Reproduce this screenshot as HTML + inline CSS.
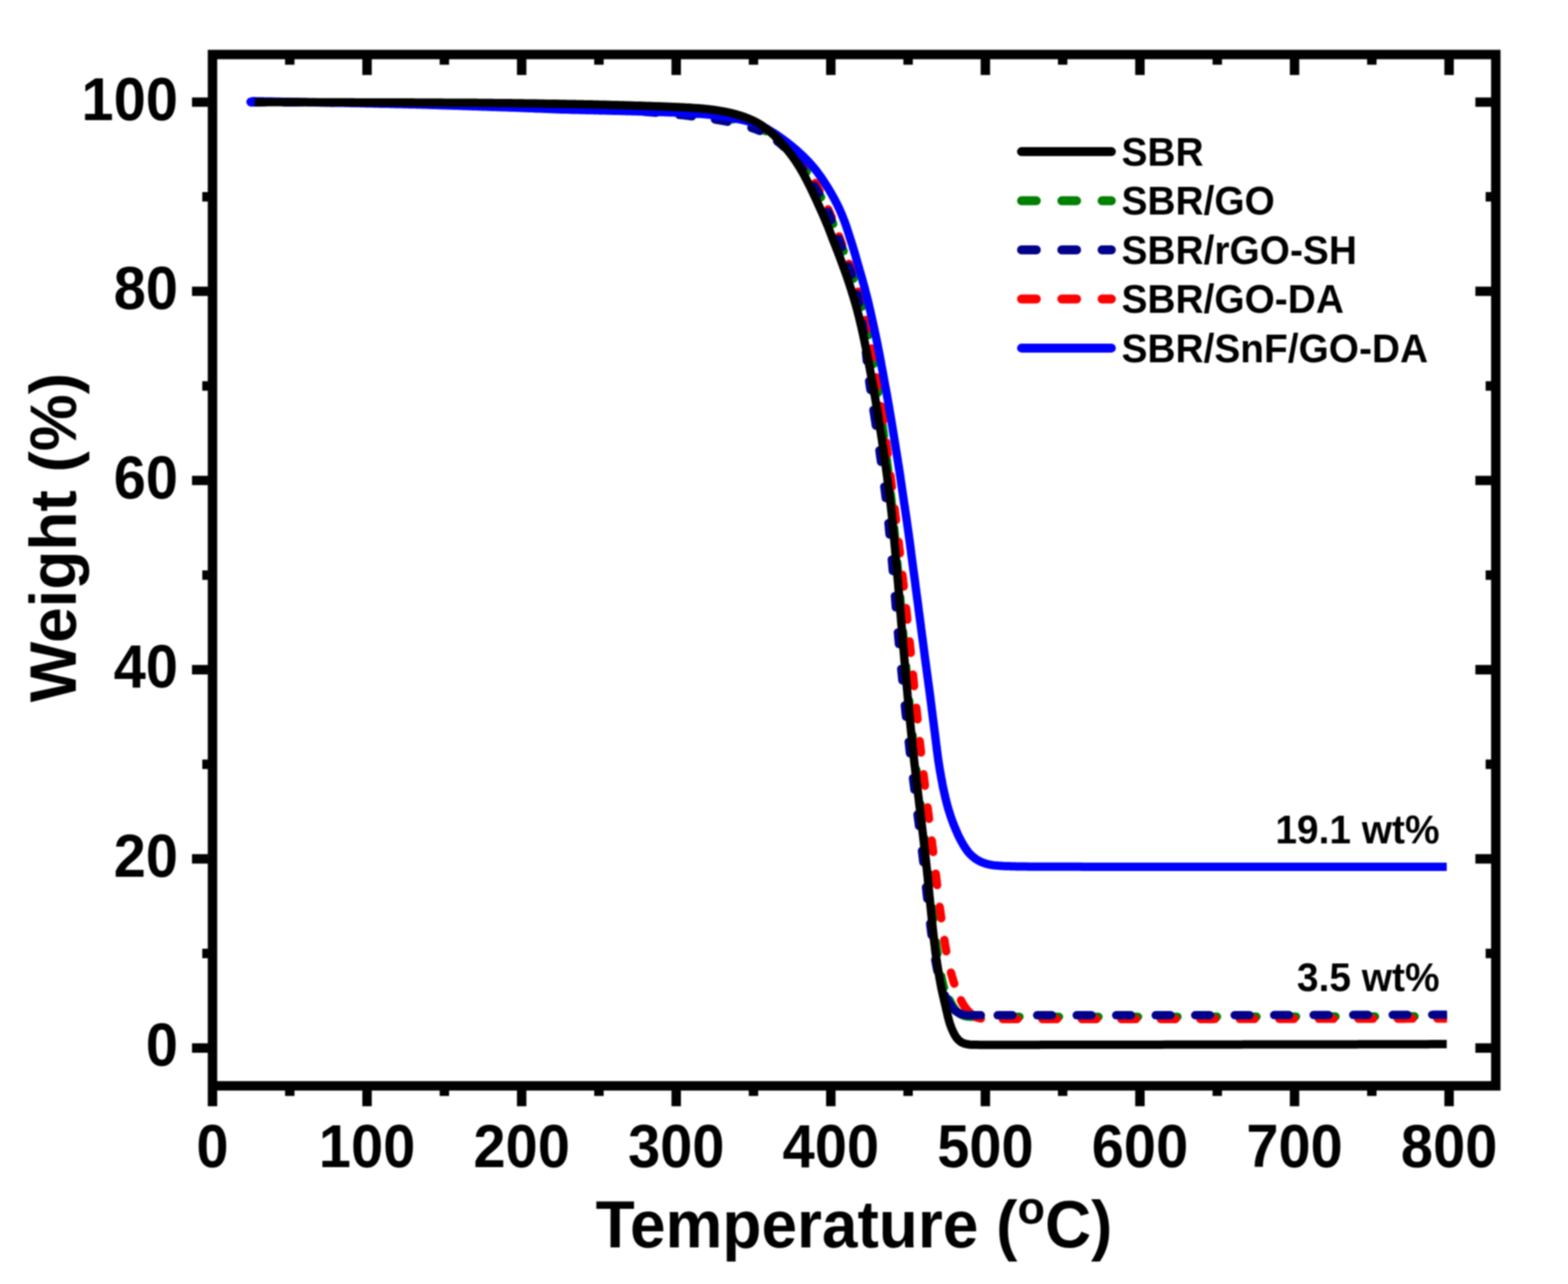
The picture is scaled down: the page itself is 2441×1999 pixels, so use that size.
<!DOCTYPE html>
<html lang="en">
<head>
<meta charset="utf-8">
<title>TGA curves</title>
<style>
html,body{margin:0;padding:0;background:#fff;}
body{width:2441px;height:1999px;overflow:hidden;}
svg{display:block;filter:blur(1.1px);}
text{font-family:'Liberation Sans', Arial, Helvetica, sans-serif;font-weight:bold;fill:#000;}
.tick{font-size:90px;}
.title{font-size:99.6px;}
.leg{font-size:60.5px;}
.ann{font-size:60.5px;}
.curve{fill:none;stroke-width:13.0;stroke-linejoin:round;}
</style>
</head>
<body>
<svg width="2441" height="1999" viewBox="0 0 2441 1999">
<rect x="0" y="0" width="2441" height="1999" fill="#ffffff"/>
<defs><clipPath id="cp"><rect x="370" y="100" width="1882.6" height="1570"/></clipPath></defs>
<g id="plot" clip-path="url(#cp)">

<path class="curve" stroke="#008000" stroke-dasharray="20 36" stroke-dashoffset="52.8" stroke-linecap="round" d="M391.0,159.2 L394.1,159.2 L397.1,159.2 L400.0,159.2 L403.0,159.2 L406.0,159.2 L409.0,159.2 L412.0,159.2 L415.0,159.2 L418.0,159.2 L421.0,159.2 L424.0,159.2 L427.0,159.2 L430.0,159.2 L433.0,159.2 L436.0,159.3 L439.0,159.3 L442.0,159.3 L445.0,159.3 L448.0,159.3 L451.0,159.3 L454.0,159.3 L457.0,159.3 L460.0,159.3 L463.0,159.3 L466.0,159.4 L469.0,159.4 L472.0,159.4 L475.0,159.4 L478.0,159.4 L481.0,159.4 L484.0,159.4 L487.0,159.4 L490.0,159.5 L493.0,159.5 L496.0,159.5 L499.0,159.5 L502.0,159.5 L505.0,159.5 L508.0,159.6 L511.0,159.6 L514.0,159.6 L517.0,159.6 L520.0,159.6 L523.0,159.6 L526.0,159.7 L529.0,159.7 L532.0,159.7 L535.0,159.7 L538.0,159.7 L541.0,159.8 L544.0,159.8 L547.0,159.8 L550.0,159.8 L553.0,159.9 L556.0,159.9 L559.0,159.9 L562.0,159.9 L565.0,160.0 L568.0,160.0 L571.0,160.0 L574.0,160.0 L577.0,160.1 L580.0,160.1 L583.0,160.1 L586.0,160.1 L589.0,160.2 L592.0,160.2 L595.0,160.2 L598.0,160.2 L601.0,160.3 L604.0,160.3 L607.0,160.3 L610.0,160.4 L613.0,160.4 L616.0,160.4 L619.0,160.4 L622.0,160.5 L625.0,160.5 L628.0,160.5 L631.0,160.6 L634.0,160.6 L637.0,160.6 L640.0,160.7 L643.0,160.7 L646.0,160.7 L649.0,160.8 L652.0,160.8 L655.0,160.8 L658.0,160.9 L661.0,160.9 L664.0,160.9 L667.0,161.0 L670.0,161.0 L673.0,161.0 L676.0,161.1 L679.0,161.1 L682.0,161.1 L685.0,161.2 L688.0,161.2 L691.0,161.2 L694.0,161.3 L697.0,161.3 L700.0,161.4 L703.0,161.4 L706.0,161.4 L709.0,161.5 L712.0,161.5 L715.0,161.5 L718.0,161.6 L721.0,161.6 L724.0,161.7 L727.0,161.7 L730.0,161.7 L733.0,161.8 L736.0,161.8 L739.0,161.9 L742.0,161.9 L745.0,161.9 L748.0,162.0 L751.0,162.0 L754.0,162.1 L757.0,162.1 L760.0,162.2 L763.0,162.2 L766.0,162.3 L769.0,162.3 L772.0,162.4 L775.0,162.4 L778.0,162.5 L781.0,162.6 L784.0,162.6 L787.0,162.7 L790.0,162.8 L793.0,162.8 L796.0,162.9 L799.0,163.0 L802.0,163.1 L805.0,163.1 L808.0,163.2 L811.0,163.3 L814.0,163.4 L817.0,163.5 L820.0,163.6 L823.0,163.7 L826.0,163.8 L829.0,163.9 L832.0,164.0 L835.0,164.1 L838.0,164.2 L841.0,164.3 L844.0,164.4 L847.0,164.5 L850.0,164.6 L853.0,164.7 L856.0,164.8 L859.0,164.9 L861.9,165.0 L864.9,165.1 L867.9,165.2 L870.9,165.3 L873.9,165.4 L876.9,165.6 L879.9,165.7 L882.9,165.8 L885.9,165.9 L888.9,166.0 L891.9,166.1 L894.9,166.3 L897.9,166.4 L900.9,166.5 L903.9,166.6 L906.9,166.7 L909.9,166.9 L912.9,167.0 L915.9,167.1 L918.9,167.2 L921.9,167.3 L924.9,167.5 L927.9,167.6 L930.9,167.7 L933.9,167.8 L936.9,168.0 L939.9,168.1 L942.9,168.2 L945.9,168.3 L948.9,168.5 L951.9,168.6 L954.9,168.7 L957.9,168.8 L960.9,169.0 L963.9,169.1 L966.9,169.2 L969.9,169.4 L972.9,169.5 L975.9,169.6 L978.9,169.8 L981.9,169.9 L984.9,170.1 L987.9,170.2 L990.9,170.4 L993.9,170.5 L996.9,170.7 L999.8,170.8 L1002.8,171.0 L1005.8,171.2 L1008.8,171.3 L1011.8,171.5 L1014.8,171.7 L1017.8,171.9 L1020.8,172.0 L1023.8,172.2 L1026.8,172.4 L1029.8,172.6 L1032.8,172.8 L1035.8,173.0 L1038.8,173.2 L1041.8,173.4 L1044.8,173.6 L1047.7,173.8 L1050.7,174.1 L1053.7,174.3 L1056.7,174.5 L1059.7,174.8 L1062.7,175.0 L1065.7,175.3 L1068.7,175.6 L1071.7,175.9 L1074.7,176.2 L1077.6,176.5 L1080.6,176.8 L1083.6,177.1 L1086.6,177.4 L1089.6,177.8 L1092.6,178.1 L1095.6,178.5 L1098.5,178.8 L1101.5,179.2 L1104.5,179.6 L1107.5,180.0 L1110.4,180.5 L1113.4,180.9 L1116.4,181.3 L1119.3,181.8 L1122.3,182.3 L1125.2,182.8 L1128.2,183.3 L1131.1,183.9 L1134.1,184.5 L1137.0,185.1 L1139.9,185.7 L1142.9,186.4 L1145.8,187.1 L1148.7,187.9 L1150.0,188.2"/>
<path class="curve" stroke="#008000" stroke-dasharray="14 31.5" stroke-dashoffset="14.6" stroke-linecap="round" d="M1150.0,188.2 L1151.6,188.7 L1154.5,189.5 L1157.4,190.3 L1160.2,191.1 L1163.1,192.0 L1165.9,193.0 L1168.8,193.9 L1171.6,195.0 L1174.4,196.1 L1177.2,197.2 L1180.0,198.4 L1182.8,199.6 L1185.5,200.8 L1188.1,202.2 L1190.8,203.5 L1193.4,205.0 L1196.0,206.5 L1198.6,208.0 L1201.1,209.7 L1203.6,211.4 L1206.1,213.1 L1208.5,214.9 L1210.9,216.7 L1213.2,218.6 L1215.5,220.5 L1217.7,222.5 L1220.0,224.5 L1222.1,226.5 L1224.3,228.6 L1226.4,230.8 L1228.5,232.9 L1230.5,235.1 L1232.6,237.4 L1234.6,239.6 L1236.5,241.9 L1238.5,244.2 L1240.4,246.5 L1242.3,248.8 L1244.1,251.2 L1245.9,253.6 L1247.8,256.0 L1249.5,258.4 L1251.3,260.8 L1253.0,263.3 L1254.7,265.8 L1256.4,268.3 L1258.0,270.8 L1259.7,273.3 L1261.2,275.9 L1262.8,278.4 L1264.3,281.0 L1265.8,283.6 L1267.3,286.2 L1268.8,288.8 L1270.2,291.4 L1271.6,294.1 L1273.0,296.7 L1274.4,299.4 L1275.8,302.1 L1277.1,304.8 L1278.4,307.5 L1279.8,310.2 L1281.1,312.9 L1282.4,315.6 L1283.7,318.3 L1285.0,321.0 L1286.2,323.7 L1287.5,326.4 L1288.7,329.2 L1290.0,331.9 L1291.2,334.6 L1292.4,337.4 L1293.6,340.2 L1294.7,342.9 L1295.9,345.7 L1297.0,348.5 L1298.2,351.2 L1299.3,354.0 L1300.4,356.8 L1301.4,359.6 L1302.5,362.4 L1303.6,365.2 L1304.6,368.0 L1305.7,370.9 L1306.7,373.7 L1307.8,376.5 L1308.9,379.3 L1309.9,382.1 L1311.0,384.9 L1312.1,387.7 L1313.2,390.5 L1314.2,393.3 L1315.3,396.1 L1316.4,398.9 L1317.4,401.7 L1318.4,404.5 L1319.5,407.3 L1320.5,410.2 L1321.5,413.0 L1322.5,415.8 L1323.5,418.6 L1324.6,421.5 L1325.6,424.3 L1326.5,427.1 L1327.5,430.0 L1328.5,432.8 L1329.4,435.6 L1330.4,438.5 L1331.3,441.3 L1332.2,444.2 L1333.1,447.0 L1334.0,449.9 L1334.9,452.8 L1335.8,455.6 L1336.7,458.5 L1337.6,461.4 L1338.4,464.3 L1339.3,467.1 L1340.1,470.0 L1341.0,472.9 L1341.8,475.8 L1342.6,478.7 L1343.3,481.6 L1344.1,484.5 L1344.8,487.4 L1345.5,490.3 L1346.2,493.2 L1346.9,496.1 L1347.5,499.1 L1348.2,502.0 L1348.8,504.9 L1349.4,507.9 L1350.0,510.8 L1350.6,513.7 L1351.2,516.7 L1351.8,519.6 L1352.3,522.5 L1352.9,525.5 L1353.4,528.4 L1354.0,531.4 L1354.5,534.4 L1355.1,537.3 L1355.6,540.3 L1356.1,543.2 L1356.6,546.2 L1357.1,549.1 L1357.6,552.1 L1358.1,555.1 L1358.6,558.0 L1359.1,561.0 L1359.6,564.0 L1360.0,566.9 L1360.5,569.9 L1361.0,572.9 L1361.5,575.8 L1361.9,578.8 L1362.4,581.8 L1362.9,584.7 L1363.3,587.7 L1363.8,590.7 L1364.3,593.6 L1364.7,596.6 L1365.2,599.5 L1365.6,602.5 L1366.1,605.5 L1366.5,608.4 L1366.9,611.4 L1367.4,614.4 L1367.8,617.3 L1368.2,620.3 L1368.7,623.3 L1369.1,626.3 L1369.5,629.2 L1369.9,632.2 L1370.3,635.2 L1370.7,638.1 L1371.2,641.1 L1371.6,644.1 L1372.0,647.1 L1372.4,650.0"/>
<path class="curve" stroke="#008000" stroke-dasharray="18 36" stroke-dashoffset="42.9" stroke-linecap="round" d="M1372.4,650.0 L1372.4,650.0 L1372.8,653.0 L1373.1,656.0 L1373.5,659.0 L1373.9,661.9 L1374.3,664.9 L1374.7,667.9 L1375.1,670.9 L1375.5,673.8 L1375.8,676.8 L1376.2,679.8 L1376.6,682.8 L1377.0,685.7 L1377.3,688.7 L1377.7,691.7 L1378.1,694.7 L1378.5,697.7 L1378.8,700.6 L1379.2,703.6 L1379.6,706.6 L1379.9,709.6 L1380.3,712.5 L1380.6,715.5 L1381.0,718.5 L1381.3,721.5 L1381.7,724.5 L1382.0,727.4 L1382.4,730.4 L1382.7,733.4 L1383.1,736.4 L1383.4,739.4 L1383.8,742.3 L1384.1,745.3 L1384.4,748.3 L1384.8,751.3 L1385.1,754.3 L1385.4,757.2 L1385.8,760.2 L1386.1,763.2 L1386.4,766.2 L1386.7,769.2 L1387.0,772.2 L1387.4,775.1 L1387.7,778.1 L1388.0,781.1 L1388.3,784.1 L1388.6,787.1 L1388.9,790.1 L1389.2,793.0 L1389.5,796.0 L1389.8,799.0 L1390.1,802.0 L1390.4,805.0 L1390.7,808.0 L1391.0,811.0 L1391.2,813.9 L1391.5,816.9 L1391.8,819.9 L1392.1,822.9 L1392.3,825.9 L1392.6,828.9 L1392.9,831.9 L1393.2,834.9 L1393.4,837.8 L1393.7,840.8 L1394.0,843.8 L1394.2,846.8 L1394.5,849.8 L1394.8,852.8 L1395.0,855.8 L1395.3,858.8 L1395.6,861.8 L1395.8,864.7 L1396.1,867.7 L1396.3,870.7 L1396.6,873.7 L1396.9,876.7 L1397.1,879.7 L1397.4,882.7 L1397.6,885.7 L1397.9,888.7 L1398.1,891.6 L1398.4,894.6 L1398.7,897.6 L1398.9,900.6 L1399.2,903.6 L1399.4,906.6 L1399.7,909.6 L1399.9,912.6 L1400.2,915.6 L1400.4,918.5 L1400.7,921.5 L1400.9,924.5 L1401.2,927.5 L1401.4,930.5 L1401.7,933.5 L1401.9,936.5 L1402.2,939.5 L1402.4,942.5 L1402.7,945.5 L1402.9,948.4 L1403.2,951.4 L1403.4,954.4 L1403.6,957.4 L1403.9,960.4 L1404.1,963.4 L1404.4,966.4 L1404.6,969.4 L1404.9,972.4 L1405.1,975.4 L1405.4,978.3 L1405.6,981.3 L1405.9,984.3 L1406.2,987.3 L1406.4,990.3 L1406.7,993.3 L1406.9,996.3 L1407.2,999.3 L1407.4,1002.3 L1407.7,1005.2 L1408.0,1008.2 L1408.2,1011.2 L1408.5,1014.2 L1408.7,1017.2 L1409.0,1020.2 L1409.3,1023.2 L1409.5,1026.2 L1409.8,1029.2 L1410.0,1032.1 L1410.3,1035.1 L1410.6,1038.1 L1410.8,1041.1 L1411.1,1044.1 L1411.4,1047.1 L1411.6,1050.1 L1411.9,1053.1 L1412.2,1056.0 L1412.4,1059.0 L1412.7,1062.0 L1413.0,1065.0 L1413.3,1068.0 L1413.5,1071.0 L1413.8,1074.0 L1414.1,1077.0 L1414.4,1079.9 L1414.6,1082.9 L1414.9,1085.9 L1415.2,1088.9 L1415.5,1091.9 L1415.8,1094.9 L1416.1,1097.9 L1416.3,1100.9 L1416.6,1103.8 L1416.9,1106.8 L1417.2,1109.8 L1417.5,1112.8 L1417.8,1115.8 L1418.1,1118.8 L1418.4,1121.8 L1418.7,1124.7 L1419.0,1127.7 L1419.3,1130.7 L1419.6,1133.7 L1419.9,1136.7 L1420.2,1139.7 L1420.5,1142.7 L1420.8,1145.6 L1421.1,1148.6 L1421.4,1151.6 L1421.7,1154.6 L1422.0,1157.6 L1422.3,1160.6 L1422.6,1163.5 L1423.0,1166.5 L1423.3,1169.5 L1423.6,1172.5 L1423.9,1175.5 L1424.2,1178.5 L1424.6,1181.4 L1424.9,1184.4 L1425.2,1187.4 L1425.6,1190.4 L1425.9,1193.4 L1426.3,1196.3 L1426.6,1199.3 L1427.0,1202.3 L1427.3,1205.3 L1427.7,1208.3 L1428.1,1211.2 L1428.4,1214.2 L1428.8,1217.2 L1429.1,1220.2 L1429.5,1223.1 L1429.9,1226.1 L1430.2,1229.1 L1430.6,1232.1 L1430.9,1235.1 L1431.3,1238.0 L1431.7,1241.0 L1432.0,1244.0 L1432.4,1247.0 L1432.7,1250.0 L1433.1,1252.9 L1433.5,1255.9 L1433.8,1258.9 L1434.2,1261.9 L1434.6,1264.8 L1434.9,1267.8 L1435.3,1270.8 L1435.6,1273.8 L1436.0,1276.8 L1436.4,1279.7 L1436.7,1282.7 L1437.1,1285.7 L1437.4,1288.7 L1437.8,1291.6 L1438.1,1294.6 L1438.5,1297.6 L1438.8,1300.6 L1439.2,1303.6 L1439.5,1306.5 L1439.9,1309.5 L1440.2,1312.5 L1440.6,1315.5 L1440.9,1318.5 L1441.3,1321.4 L1441.6,1324.4 L1441.9,1327.4 L1442.3,1330.4 L1442.6,1333.4 L1442.9,1336.3 L1443.3,1339.3 L1443.6,1342.3 L1443.9,1345.3 L1444.3,1348.3 L1444.6,1351.3 L1444.9,1354.2 L1445.2,1357.2 L1445.5,1360.2 L1445.8,1363.2 L1446.1,1366.2 L1446.4,1369.2 L1446.7,1372.1 L1447.0,1375.1 L1447.3,1378.1 L1447.6,1381.1 L1447.9,1384.1 L1448.2,1387.1 L1448.5,1390.1 L1448.8,1393.0 L1449.1,1396.0 L1449.5,1399.0 L1449.8,1402.0 L1450.1,1405.0 L1450.4,1408.0 L1450.7,1410.9 L1451.0,1413.9 L1451.4,1416.9 L1451.7,1419.9 L1452.0,1422.9 L1452.3,1425.9 L1452.7,1428.8 L1453.0,1431.8 L1453.3,1434.8 L1453.6,1437.8 L1454.0,1440.8 L1454.3,1443.8 L1454.6,1446.7 L1455.0,1449.7 L1455.3,1452.7 L1455.7,1455.7 L1456.0,1458.7 L1456.4,1461.6 L1456.8,1464.6 L1457.2,1467.6 L1457.5,1470.6 L1457.9,1473.5 L1458.3,1476.5 L1458.7,1479.5 L1459.2,1482.4 L1459.6,1485.4 L1460.1,1488.4 L1460.5,1491.3 L1461.0,1494.3 L1461.5,1497.3 L1462.0,1500.2 L1462.5,1503.2 L1463.0,1506.1 L1463.5,1509.1 L1464.1,1512.1 L1464.6,1515.0 L1465.1,1518.0 L1465.7,1521.0 L1466.2,1523.9 L1466.8,1526.9 L1467.5,1529.8 L1468.2,1532.7 L1468.9,1535.5 L1469.8,1538.4 L1470.8,1541.2 L1471.9,1544.0 L1473.1,1546.7 L1474.4,1549.4 L1475.7,1552.1 L1477.1,1554.8 L1478.0,1556.6"/>
<path class="curve" stroke="#008000" stroke-dasharray="23 38.5" stroke-dashoffset="19.4" stroke-linecap="round" d="M1522.0,1583.0 L1523.6,1583.0 L1526.5,1583.0 L1529.5,1583.0 L1532.5,1583.0 L1535.5,1583.0 L1538.5,1583.0 L1541.4,1583.0 L1544.4,1583.0 L1547.4,1583.0 L1550.4,1583.0 L1553.4,1583.0 L1556.4,1583.0 L1559.4,1583.0 L1562.4,1583.0 L1565.4,1583.0 L1568.4,1583.0 L1571.4,1583.0 L1574.4,1583.0 L1577.4,1583.0 L1580.4,1583.0 L1583.4,1583.0 L1586.4,1583.0 L1589.4,1583.0 L1592.4,1583.0 L1595.4,1583.0 L1598.4,1583.0 L1601.4,1583.0 L1604.4,1583.0 L1607.4,1583.0 L1610.5,1583.0 L1613.5,1583.0 L1616.5,1583.0 L1619.5,1583.0 L1622.5,1583.0 L1625.5,1583.0 L1628.5,1583.0 L1631.5,1583.0 L1634.5,1583.0 L1637.5,1583.0 L1640.6,1583.0 L1643.6,1583.0 L1646.6,1583.0 L1649.6,1583.0 L1652.6,1583.0 L1655.6,1583.0 L1658.6,1583.0 L1661.6,1583.0 L1664.6,1583.0 L1667.6,1583.0 L1670.7,1583.0 L1673.7,1583.0 L1676.7,1583.0 L1679.7,1583.0 L1682.7,1583.0 L1685.7,1583.0 L1688.7,1583.0 L1691.7,1583.0 L1694.7,1583.0 L1697.7,1583.0 L1700.7,1583.0 L1703.7,1583.0 L1706.7,1583.0 L1709.7,1583.0 L1712.7,1583.0 L1715.7,1583.0 L1718.7,1583.0 L1721.7,1583.0 L1724.7,1583.0 L1727.7,1583.0 L1730.7,1583.0 L1733.7,1583.0 L1736.7,1583.0 L1739.7,1583.0 L1742.7,1583.0 L1745.7,1583.0 L1748.7,1583.0 L1751.7,1583.0 L1754.7,1583.0 L1757.7,1583.0 L1760.7,1583.0 L1763.7,1583.0 L1766.7,1583.0 L1769.7,1583.0 L1772.7,1583.0 L1775.7,1583.0 L1778.7,1583.0 L1781.7,1583.0 L1784.7,1583.0 L1787.7,1583.0 L1790.7,1583.0 L1793.7,1583.0 L1796.7,1583.0 L1799.7,1583.0 L1802.7,1582.9 L1805.7,1582.9 L1808.7,1582.9 L1811.7,1582.9 L1814.7,1582.9 L1817.7,1582.9 L1820.7,1582.9 L1823.7,1582.9 L1826.7,1582.9 L1829.7,1582.9 L1832.7,1582.9 L1835.7,1582.9 L1838.7,1582.9 L1841.7,1582.9 L1844.7,1582.9 L1847.7,1582.9 L1850.7,1582.9 L1853.7,1582.9 L1856.7,1582.9 L1859.7,1582.9 L1862.7,1582.9 L1865.7,1582.9 L1868.7,1582.9 L1871.7,1582.9 L1874.7,1582.9 L1877.7,1582.9 L1880.7,1582.9 L1883.7,1582.9 L1886.7,1582.9 L1889.7,1582.9 L1892.7,1582.8 L1895.7,1582.8 L1898.7,1582.8 L1901.7,1582.8 L1904.7,1582.8 L1907.7,1582.8 L1910.7,1582.8 L1913.7,1582.8 L1916.7,1582.8 L1919.7,1582.8 L1922.7,1582.8 L1925.7,1582.8 L1928.7,1582.8 L1931.7,1582.8 L1934.7,1582.8 L1937.7,1582.8 L1940.7,1582.8 L1943.7,1582.8 L1946.7,1582.8 L1949.7,1582.8 L1952.7,1582.8 L1955.7,1582.8 L1958.7,1582.8 L1961.7,1582.8 L1964.7,1582.7 L1967.7,1582.7 L1970.7,1582.7 L1973.7,1582.7 L1976.7,1582.7 L1979.7,1582.7 L1982.7,1582.7 L1985.7,1582.7 L1988.7,1582.7 L1991.7,1582.7 L1994.7,1582.7 L1997.7,1582.7 L2000.7,1582.7 L2003.7,1582.7 L2006.7,1582.7 L2009.7,1582.7 L2012.7,1582.7 L2015.7,1582.7 L2018.7,1582.7 L2021.7,1582.7 L2024.7,1582.7 L2027.7,1582.7 L2030.7,1582.7 L2033.7,1582.7 L2036.7,1582.6 L2039.7,1582.6 L2042.7,1582.6 L2045.7,1582.6 L2048.7,1582.6 L2051.7,1582.6 L2054.7,1582.6 L2057.7,1582.6 L2060.7,1582.6 L2063.7,1582.6 L2066.7,1582.6 L2069.7,1582.6 L2072.7,1582.6 L2075.7,1582.6 L2078.7,1582.6 L2081.7,1582.6 L2084.7,1582.6 L2087.7,1582.6 L2090.7,1582.6 L2093.7,1582.5 L2096.7,1582.5 L2099.7,1582.5 L2102.7,1582.5 L2105.7,1582.5 L2108.7,1582.5 L2111.7,1582.5 L2114.7,1582.5 L2117.7,1582.5 L2120.7,1582.5 L2123.7,1582.5 L2126.7,1582.5 L2129.7,1582.5 L2132.7,1582.5 L2135.7,1582.5 L2138.7,1582.5 L2141.7,1582.5 L2144.7,1582.4 L2147.7,1582.4 L2150.7,1582.4 L2153.7,1582.4 L2156.7,1582.4 L2159.7,1582.4 L2162.7,1582.4 L2165.7,1582.4 L2168.7,1582.4 L2171.7,1582.4 L2174.7,1582.4 L2177.7,1582.4 L2180.7,1582.4 L2183.7,1582.4 L2186.7,1582.4 L2189.7,1582.3 L2192.7,1582.3 L2195.7,1582.3 L2198.7,1582.3 L2201.7,1582.3 L2204.7,1582.3 L2207.7,1582.3 L2210.7,1582.3 L2213.7,1582.3 L2216.7,1582.3 L2219.7,1582.3 L2222.7,1582.3 L2225.7,1582.3 L2228.7,1582.3 L2231.7,1582.2 L2234.7,1582.2 L2237.7,1582.2 L2240.7,1582.2 L2243.7,1582.2 L2246.6,1582.2 L2249.6,1582.2 L2252.4,1582.2"/>
<path class="curve" stroke="#008000" stroke-linecap="round" d="M1478.0,1556.6 L1478.5,1557.5 L1479.9,1560.2 L1481.4,1562.9 L1482.8,1565.5 L1484.4,1568.1 L1486.1,1570.5 L1487.9,1572.9 L1490.0,1575.0 L1492.2,1577.0 L1494.6,1578.7 L1497.2,1580.1 L1499.9,1581.2 L1502.8,1582.0 L1505.7,1582.5 L1508.7,1582.8 L1511.7,1582.9 L1514.6,1583.0 L1517.6,1583.0 L1520.6,1583.0 L1522.0,1583.0"/>
<path class="curve" stroke="#ff0000" stroke-dasharray="20 36" stroke-dashoffset="0.8" stroke-linecap="round" d="M391.0,159.1 L394.1,159.1 L397.1,159.1 L400.0,159.1 L403.0,159.1 L406.0,159.1 L409.0,159.1 L412.0,159.1 L415.0,159.1 L418.0,159.1 L421.0,159.1 L424.0,159.1 L427.0,159.1 L430.0,159.1 L433.0,159.1 L436.0,159.1 L439.0,159.2 L442.0,159.2 L445.0,159.2 L448.0,159.2 L451.0,159.2 L454.0,159.2 L457.0,159.2 L460.0,159.2 L463.0,159.2 L466.0,159.2 L469.0,159.2 L472.0,159.2 L475.0,159.3 L478.0,159.3 L481.0,159.3 L484.0,159.3 L487.0,159.3 L490.0,159.3 L493.0,159.3 L496.0,159.3 L499.0,159.4 L502.0,159.4 L505.0,159.4 L508.0,159.4 L511.0,159.4 L514.0,159.4 L517.0,159.4 L520.0,159.5 L523.0,159.5 L526.0,159.5 L529.0,159.5 L532.0,159.5 L535.0,159.5 L538.0,159.6 L541.0,159.6 L544.0,159.6 L547.0,159.6 L550.0,159.6 L553.0,159.7 L556.0,159.7 L559.0,159.7 L562.0,159.7 L565.0,159.7 L568.0,159.8 L571.0,159.8 L574.0,159.8 L577.0,159.8 L580.0,159.8 L583.0,159.9 L586.0,159.9 L589.0,159.9 L592.0,159.9 L595.0,160.0 L598.0,160.0 L601.0,160.0 L604.0,160.0 L607.0,160.1 L610.0,160.1 L613.0,160.1 L616.0,160.1 L619.0,160.2 L622.0,160.2 L625.0,160.2 L628.0,160.2 L631.0,160.3 L634.0,160.3 L637.0,160.3 L640.0,160.3 L643.0,160.4 L646.0,160.4 L649.0,160.4 L652.0,160.5 L655.0,160.5 L658.0,160.5 L661.0,160.5 L664.0,160.6 L667.0,160.6 L670.0,160.6 L673.0,160.7 L676.0,160.7 L679.0,160.7 L682.0,160.8 L685.0,160.8 L688.0,160.8 L691.0,160.8 L694.0,160.9 L697.0,160.9 L700.0,160.9 L703.0,161.0 L706.0,161.0 L709.0,161.0 L712.0,161.1 L715.0,161.1 L718.0,161.1 L721.0,161.2 L724.0,161.2 L727.0,161.2 L730.0,161.3 L733.0,161.3 L736.0,161.3 L739.0,161.4 L742.0,161.4 L745.0,161.4 L748.0,161.5 L751.0,161.5 L754.0,161.6 L757.0,161.6 L760.0,161.6 L763.0,161.7 L766.0,161.7 L769.0,161.8 L772.0,161.8 L775.0,161.9 L778.0,161.9 L781.0,162.0 L784.0,162.0 L787.0,162.1 L790.0,162.2 L793.0,162.2 L796.0,162.3 L799.0,162.4 L802.0,162.4 L805.0,162.5 L808.0,162.6 L811.0,162.7 L814.0,162.7 L817.0,162.8 L820.0,162.9 L823.0,163.0 L826.0,163.1 L829.0,163.2 L832.0,163.2 L835.0,163.3 L838.0,163.4 L841.0,163.5 L844.0,163.6 L847.0,163.7 L850.0,163.8 L853.0,163.9 L856.0,164.0 L859.0,164.1 L862.0,164.2 L865.0,164.3 L868.0,164.4 L871.0,164.5 L874.0,164.6 L877.0,164.7 L880.0,164.8 L883.0,164.9 L886.0,165.0 L888.9,165.1 L891.9,165.3 L894.9,165.4 L897.9,165.5 L900.9,165.6 L903.9,165.7 L906.9,165.8 L909.9,165.9 L912.9,166.0 L915.9,166.2 L918.9,166.3 L921.9,166.4 L924.9,166.5 L927.9,166.6 L930.9,166.7 L933.9,166.8 L936.9,167.0 L939.9,167.1 L942.9,167.2 L945.9,167.3 L948.9,167.4 L951.9,167.6 L954.9,167.7 L957.9,167.8 L960.9,167.9 L963.9,168.1 L966.9,168.2 L969.9,168.3 L972.9,168.5 L975.9,168.6 L978.9,168.8 L981.9,168.9 L984.9,169.0 L987.9,169.2 L990.9,169.3 L993.9,169.5 L996.9,169.7 L999.9,169.8 L1002.9,170.0 L1005.9,170.1 L1008.9,170.3 L1011.9,170.5 L1014.8,170.7 L1017.8,170.8 L1020.8,171.0 L1023.8,171.2 L1026.8,171.4 L1029.8,171.6 L1032.8,171.8 L1035.8,172.0 L1038.8,172.2 L1041.8,172.4 L1044.8,172.6 L1047.8,172.8 L1050.7,173.1 L1053.7,173.3 L1056.7,173.5 L1059.7,173.8 L1062.7,174.0 L1065.7,174.3 L1068.7,174.6 L1071.7,174.9 L1074.7,175.2 L1077.7,175.5 L1080.7,175.8 L1083.6,176.1 L1086.6,176.4 L1089.6,176.8 L1092.6,177.1 L1095.6,177.5 L1098.6,177.9 L1101.5,178.2 L1104.5,178.6 L1107.5,179.0 L1110.4,179.5 L1113.4,179.9 L1116.4,180.3 L1119.3,180.8 L1122.3,181.3 L1125.2,181.8 L1128.2,182.3 L1131.1,182.9 L1134.1,183.5 L1137.0,184.1 L1139.9,184.8 L1142.9,185.5 L1145.8,186.2 L1148.7,186.9 L1150.0,187.3"/>
<path class="curve" stroke="#ff0000" stroke-dasharray="14 31.5" stroke-dashoffset="22.5" stroke-linecap="round" d="M1150.0,187.3 L1151.6,187.7 L1154.5,188.5 L1157.4,189.3 L1160.3,190.1 L1163.1,191.0 L1166.0,191.9 L1168.9,192.8 L1171.7,193.7 L1174.6,194.7 L1177.4,195.8 L1180.2,196.9 L1183.0,198.0 L1185.7,199.2 L1188.5,200.4 L1191.1,201.7 L1193.8,203.0 L1196.4,204.5 L1199.0,206.0 L1201.6,207.6 L1204.1,209.2 L1206.6,210.9 L1209.1,212.6 L1211.5,214.4 L1213.9,216.2 L1216.2,218.1 L1218.5,220.0 L1220.7,222.0 L1223.0,224.0 L1225.1,226.1 L1227.3,228.2 L1229.4,230.3 L1231.5,232.5 L1233.5,234.7 L1235.6,237.0 L1237.5,239.2 L1239.5,241.5 L1241.4,243.8 L1243.4,246.1 L1245.2,248.4 L1247.1,250.8 L1248.9,253.1 L1250.8,255.5 L1252.5,258.0 L1254.3,260.4 L1256.0,262.9 L1257.7,265.4 L1259.3,267.9 L1260.9,270.4 L1262.5,272.9 L1264.0,275.5 L1265.5,278.1 L1267.0,280.7 L1268.5,283.3 L1269.9,285.9 L1271.3,288.6 L1272.7,291.3 L1274.0,293.9 L1275.4,296.6 L1276.7,299.3 L1278.0,302.0 L1279.3,304.8 L1280.6,307.5 L1281.9,310.2 L1283.2,312.9 L1284.5,315.6 L1285.7,318.4 L1287.0,321.1 L1288.2,323.8 L1289.5,326.5 L1290.7,329.3 L1291.9,332.0 L1293.1,334.8 L1294.3,337.5 L1295.5,340.3 L1296.6,343.1 L1297.8,345.8 L1298.9,348.6 L1300.0,351.4 L1301.1,354.2 L1302.1,357.0 L1303.2,359.8 L1304.2,362.6 L1305.2,365.5 L1306.3,368.3 L1307.3,371.1 L1308.3,373.9 L1309.4,376.7 L1310.4,379.6 L1311.4,382.4 L1312.5,385.2 L1313.5,388.0 L1314.6,390.8 L1315.6,393.6 L1316.7,396.4 L1317.7,399.3 L1318.7,402.1 L1319.7,404.9 L1320.7,407.7 L1321.7,410.6 L1322.7,413.4 L1323.7,416.2 L1324.7,419.1 L1325.6,421.9 L1326.6,424.7 L1327.6,427.6 L1328.5,430.4 L1329.4,433.3 L1330.4,436.1 L1331.3,439.0 L1332.2,441.9 L1333.1,444.7 L1333.9,447.6 L1334.8,450.5 L1335.6,453.3 L1336.5,456.2 L1337.3,459.1 L1338.1,462.0 L1339.0,464.9 L1339.8,467.8 L1340.6,470.7 L1341.4,473.6 L1342.1,476.5 L1342.9,479.4 L1343.6,482.3 L1344.4,485.2 L1345.1,488.1 L1345.8,491.0 L1346.4,493.9 L1347.1,496.9 L1347.8,499.8 L1348.4,502.7 L1349.0,505.6 L1349.7,508.6 L1350.3,511.5 L1350.9,514.4 L1351.5,517.4 L1352.1,520.3 L1352.7,523.2 L1353.2,526.2 L1353.8,529.1 L1354.4,532.1 L1354.9,535.0 L1355.5,538.0 L1356.1,540.9 L1356.6,543.9 L1357.1,546.8 L1357.7,549.8 L1358.2,552.8 L1358.7,555.7 L1359.2,558.7 L1359.8,561.6 L1360.3,564.6 L1360.8,567.5 L1361.3,570.5 L1361.8,573.5 L1362.3,576.4 L1362.8,579.4 L1363.3,582.3 L1363.8,585.3 L1364.3,588.3 L1364.8,591.2 L1365.3,594.2 L1365.8,597.1 L1366.3,600.1 L1366.8,603.1 L1367.2,606.0 L1367.7,609.0 L1368.2,611.9 L1368.6,614.9 L1369.1,617.9 L1369.6,620.8 L1370.0,623.8 L1370.5,626.8 L1370.9,629.7 L1371.4,632.7 L1371.8,635.7 L1372.3,638.6 L1372.7,641.6 L1373.2,644.6 L1373.6,647.5 L1374.0,650.0"/>
<path class="curve" stroke="#ff0000" stroke-dasharray="18 34" stroke-dashoffset="12.9" stroke-linecap="round" d="M1374.0,650.0 L1374.1,650.5 L1374.5,653.5 L1374.9,656.4 L1375.4,659.4 L1375.8,662.4 L1376.2,665.3 L1376.6,668.3 L1377.0,671.3 L1377.5,674.3 L1377.9,677.2 L1378.3,680.2 L1378.7,683.2 L1379.1,686.1 L1379.5,689.1 L1379.9,692.1 L1380.3,695.1 L1380.8,698.0 L1381.2,701.0 L1381.5,704.0 L1381.9,706.9 L1382.3,709.9 L1382.7,712.9 L1383.1,715.9 L1383.5,718.8 L1383.9,721.8 L1384.3,724.8 L1384.7,727.8 L1385.0,730.7 L1385.4,733.7 L1385.8,736.7 L1386.2,739.7 L1386.5,742.7 L1386.9,745.6 L1387.3,748.6 L1387.7,751.6 L1388.0,754.6 L1388.4,757.5 L1388.8,760.5 L1389.1,763.5 L1389.5,766.5 L1389.9,769.4 L1390.3,772.4 L1390.6,775.4 L1391.0,778.4 L1391.4,781.4 L1391.7,784.3 L1392.1,787.3 L1392.5,790.3 L1392.8,793.3 L1393.2,796.2 L1393.5,799.2 L1393.9,802.2 L1394.3,805.2 L1394.6,808.2 L1395.0,811.1 L1395.4,814.1 L1395.7,817.1 L1396.1,820.1 L1396.4,823.0 L1396.8,826.0 L1397.1,829.0 L1397.5,832.0 L1397.9,835.0 L1398.2,837.9 L1398.6,840.9 L1398.9,843.9 L1399.3,846.9 L1399.6,849.9 L1400.0,852.8 L1400.3,855.8 L1400.7,858.8 L1401.0,861.8 L1401.4,864.8 L1401.7,867.7 L1402.1,870.7 L1402.4,873.7 L1402.7,876.7 L1403.1,879.7 L1403.4,882.6 L1403.8,885.6 L1404.1,888.6 L1404.5,891.6 L1404.8,894.6 L1405.1,897.5 L1405.5,900.5 L1405.8,903.5 L1406.1,906.5 L1406.5,909.5 L1406.8,912.4 L1407.1,915.4 L1407.5,918.4 L1407.8,921.4 L1408.1,924.4 L1408.5,927.4 L1408.8,930.3 L1409.1,933.3 L1409.4,936.3 L1409.8,939.3 L1410.1,942.3 L1410.4,945.3 L1410.7,948.2 L1411.1,951.2 L1411.4,954.2 L1411.7,957.2 L1412.0,960.2 L1412.3,963.1 L1412.6,966.1 L1413.0,969.1 L1413.3,972.1 L1413.6,975.1 L1413.9,978.1 L1414.2,981.0 L1414.5,984.0 L1414.9,987.0 L1415.2,990.0 L1415.5,993.0 L1415.8,996.0 L1416.1,999.0 L1416.4,1001.9 L1416.7,1004.9 L1417.0,1007.9 L1417.3,1010.9 L1417.6,1013.9 L1417.9,1016.9 L1418.2,1019.8 L1418.5,1022.8 L1418.8,1025.8 L1419.1,1028.8 L1419.4,1031.8 L1419.7,1034.8 L1420.0,1037.8 L1420.3,1040.7 L1420.6,1043.7 L1420.9,1046.7 L1421.2,1049.7 L1421.5,1052.7 L1421.8,1055.7 L1422.1,1058.7 L1422.4,1061.6 L1422.7,1064.6 L1423.0,1067.6 L1423.3,1070.6 L1423.6,1073.6 L1423.9,1076.6 L1424.2,1079.5 L1424.5,1082.5 L1424.8,1085.5 L1425.1,1088.5 L1425.4,1091.5 L1425.7,1094.5 L1426.0,1097.5 L1426.3,1100.4 L1426.7,1103.4 L1427.0,1106.4 L1427.3,1109.4 L1427.6,1112.4 L1427.9,1115.4 L1428.2,1118.3 L1428.5,1121.3 L1428.8,1124.3 L1429.1,1127.3 L1429.4,1130.3 L1429.7,1133.3 L1430.0,1136.3 L1430.3,1139.2 L1430.6,1142.2 L1430.9,1145.2 L1431.2,1148.2 L1431.6,1151.2 L1431.9,1154.2 L1432.2,1157.1 L1432.5,1160.1 L1432.8,1163.1 L1433.2,1166.1 L1433.5,1169.1 L1433.8,1172.0 L1434.1,1175.0 L1434.5,1178.0 L1434.8,1181.0 L1435.2,1184.0 L1435.5,1187.0 L1435.8,1189.9 L1436.2,1192.9 L1436.5,1195.9 L1436.9,1198.9 L1437.3,1201.8 L1437.6,1204.8 L1438.0,1207.8 L1438.3,1210.8 L1438.7,1213.8 L1439.1,1216.7 L1439.4,1219.7 L1439.8,1222.7 L1440.2,1225.7 L1440.5,1228.7 L1440.9,1231.6 L1441.3,1234.6 L1441.6,1237.6 L1442.0,1240.6 L1442.4,1243.5 L1442.7,1246.5 L1443.1,1249.5 L1443.5,1252.5 L1443.9,1255.4 L1444.2,1258.4 L1444.6,1261.4 L1445.0,1264.4 L1445.4,1267.3 L1445.7,1270.3 L1446.1,1273.3 L1446.5,1276.3 L1446.9,1279.3 L1447.2,1282.2 L1447.6,1285.2 L1448.0,1288.2 L1448.4,1291.2 L1448.7,1294.1 L1449.1,1297.1 L1449.5,1300.1 L1449.8,1303.1 L1450.2,1306.0 L1450.6,1309.0 L1451.0,1312.0 L1451.3,1315.0 L1451.7,1318.0 L1452.1,1320.9 L1452.4,1323.9 L1452.8,1326.9 L1453.2,1329.9 L1453.5,1332.8 L1453.9,1335.8 L1454.2,1338.8 L1454.6,1341.8 L1455.0,1344.8 L1455.3,1347.7 L1455.7,1350.7 L1456.0,1353.7 L1456.4,1356.7 L1456.7,1359.7 L1457.1,1362.6 L1457.4,1365.6 L1457.8,1368.6 L1458.1,1371.6 L1458.4,1374.6 L1458.8,1377.5 L1459.1,1380.5 L1459.5,1383.5 L1459.8,1386.5 L1460.2,1389.5 L1460.5,1392.4 L1460.9,1395.4 L1461.2,1398.4 L1461.6,1401.4 L1462.0,1404.3 L1462.3,1407.3 L1462.7,1410.3 L1463.1,1413.3 L1463.5,1416.2 L1463.9,1419.2 L1464.3,1422.2 L1464.7,1425.2 L1465.1,1428.2 L1465.5,1431.1 L1465.9,1434.1 L1466.3,1437.1 L1466.7,1440.1 L1467.1,1443.0 L1467.5,1446.0 L1467.9,1449.0 L1468.4,1451.9 L1468.8,1454.9 L1469.3,1457.9 L1469.7,1460.8 L1470.2,1463.8 L1470.7,1466.8 L1471.1,1469.7 L1471.6,1472.7 L1472.1,1475.6 L1472.6,1478.6 L1473.2,1481.5 L1473.7,1484.5 L1474.2,1487.4 L1474.8,1490.4 L1475.4,1493.3 L1476.0,1496.3 L1476.6,1499.2 L1477.3,1502.1 L1478.0,1505.1 L1478.7,1508.0 L1479.5,1510.9 L1480.3,1513.8 L1481.1,1516.7 L1481.9,1519.6 L1482.8,1522.5 L1483.6,1525.4 L1484.5,1528.3 L1485.5,1531.2 L1486.5,1534.1 L1487.5,1537.0 L1488.5,1539.9 L1489.6,1542.7 L1490.7,1545.5 L1491.8,1548.3 L1493.0,1551.0 L1494.3,1553.7 L1495.5,1556.4 L1496.0,1557.3"/>
<path class="curve" stroke="#ff0000" stroke-dasharray="23 38.5" stroke-dashoffset="27.4" stroke-linecap="round" d="M1527.0,1585.6 L1529.9,1586.0 L1532.9,1586.3 L1535.9,1586.4 L1539.0,1586.5 L1541.9,1586.5 L1544.9,1586.5 L1547.9,1586.5 L1550.9,1586.5 L1553.9,1586.5 L1556.9,1586.5 L1559.9,1586.5 L1562.9,1586.5 L1565.9,1586.5 L1568.9,1586.5 L1571.9,1586.5 L1574.9,1586.5 L1577.9,1586.5 L1580.9,1586.5 L1583.9,1586.5 L1586.9,1586.5 L1589.9,1586.5 L1592.9,1586.5 L1595.9,1586.5 L1598.9,1586.5 L1601.9,1586.5 L1604.9,1586.5 L1607.9,1586.5 L1610.9,1586.5 L1613.9,1586.5 L1616.9,1586.5 L1619.9,1586.5 L1622.9,1586.5 L1625.9,1586.5 L1628.9,1586.5 L1631.9,1586.5 L1634.9,1586.5 L1637.9,1586.5 L1640.9,1586.5 L1643.9,1586.5 L1646.9,1586.5 L1649.9,1586.5 L1652.9,1586.5 L1655.9,1586.5 L1658.9,1586.5 L1661.9,1586.5 L1664.9,1586.5 L1668.0,1586.5 L1671.0,1586.5 L1674.0,1586.5 L1677.0,1586.5 L1680.0,1586.5 L1683.0,1586.5 L1686.0,1586.5 L1689.0,1586.5 L1692.0,1586.5 L1695.0,1586.5 L1698.0,1586.5 L1701.0,1586.5 L1704.0,1586.5 L1707.0,1586.5 L1710.0,1586.5 L1713.0,1586.5 L1716.0,1586.5 L1719.0,1586.5 L1722.0,1586.5 L1725.0,1586.5 L1728.0,1586.5 L1731.0,1586.5 L1734.0,1586.5 L1737.0,1586.5 L1740.0,1586.5 L1743.0,1586.5 L1746.0,1586.5 L1749.0,1586.5 L1752.0,1586.5 L1755.0,1586.5 L1758.0,1586.5 L1761.0,1586.5 L1764.0,1586.5 L1767.0,1586.5 L1770.0,1586.5 L1773.0,1586.5 L1776.0,1586.5 L1779.0,1586.5 L1782.0,1586.5 L1785.0,1586.5 L1788.0,1586.5 L1791.0,1586.5 L1794.0,1586.5 L1797.0,1586.5 L1800.0,1586.5 L1803.0,1586.4 L1806.0,1586.4 L1809.0,1586.4 L1812.0,1586.4 L1815.0,1586.4 L1818.0,1586.4 L1821.0,1586.4 L1824.0,1586.4 L1827.0,1586.4 L1830.0,1586.4 L1833.0,1586.4 L1836.0,1586.4 L1839.0,1586.4 L1842.0,1586.4 L1845.0,1586.4 L1848.0,1586.4 L1851.0,1586.4 L1854.0,1586.4 L1857.0,1586.4 L1860.0,1586.4 L1863.0,1586.4 L1866.0,1586.4 L1869.0,1586.4 L1872.0,1586.4 L1875.0,1586.4 L1878.0,1586.4 L1881.0,1586.4 L1884.0,1586.4 L1887.0,1586.4 L1890.0,1586.4 L1893.0,1586.3 L1896.0,1586.3 L1899.0,1586.3 L1902.0,1586.3 L1905.0,1586.3 L1908.0,1586.3 L1911.0,1586.3 L1914.0,1586.3 L1917.0,1586.3 L1920.0,1586.3 L1923.0,1586.3 L1926.0,1586.3 L1929.0,1586.3 L1932.0,1586.3 L1935.0,1586.3 L1938.0,1586.3 L1941.0,1586.3 L1944.0,1586.3 L1947.0,1586.3 L1950.0,1586.3 L1953.0,1586.3 L1956.0,1586.3 L1959.0,1586.3 L1962.0,1586.3 L1965.0,1586.2 L1968.0,1586.2 L1971.0,1586.2 L1974.0,1586.2 L1977.0,1586.2 L1980.0,1586.2 L1983.0,1586.2 L1986.0,1586.2 L1989.0,1586.2 L1992.0,1586.2 L1995.0,1586.2 L1998.0,1586.2 L2001.0,1586.2 L2004.0,1586.2 L2007.0,1586.2 L2010.0,1586.2 L2013.0,1586.2 L2016.0,1586.2 L2019.0,1586.2 L2022.0,1586.2 L2025.0,1586.2 L2028.0,1586.2 L2031.0,1586.2 L2034.0,1586.2 L2037.0,1586.1 L2040.0,1586.1 L2043.0,1586.1 L2046.0,1586.1 L2049.0,1586.1 L2052.0,1586.1 L2055.0,1586.1 L2058.0,1586.1 L2061.0,1586.1 L2064.0,1586.1 L2067.0,1586.1 L2070.0,1586.1 L2073.0,1586.1 L2076.0,1586.1 L2079.0,1586.1 L2082.0,1586.1 L2085.0,1586.1 L2088.0,1586.1 L2091.0,1586.1 L2094.0,1586.0 L2097.0,1586.0 L2100.0,1586.0 L2103.0,1586.0 L2106.0,1586.0 L2109.0,1586.0 L2112.0,1586.0 L2115.0,1586.0 L2118.0,1586.0 L2121.0,1586.0 L2124.0,1586.0 L2127.0,1586.0 L2130.0,1586.0 L2133.0,1586.0 L2136.0,1586.0 L2139.0,1586.0 L2142.0,1586.0 L2145.0,1585.9 L2148.0,1585.9 L2151.0,1585.9 L2154.0,1585.9 L2157.0,1585.9 L2160.0,1585.9 L2163.0,1585.9 L2166.0,1585.9 L2169.0,1585.9 L2172.0,1585.9 L2175.0,1585.9 L2178.0,1585.9 L2181.0,1585.9 L2184.0,1585.9 L2187.0,1585.9 L2190.0,1585.8 L2193.0,1585.8 L2196.0,1585.8 L2199.0,1585.8 L2202.0,1585.8 L2205.0,1585.8 L2208.0,1585.8 L2211.0,1585.8 L2214.0,1585.8 L2217.0,1585.8 L2220.0,1585.8 L2223.0,1585.8 L2226.0,1585.8 L2229.0,1585.8 L2232.0,1585.7 L2235.0,1585.7 L2238.0,1585.7 L2241.0,1585.7 L2243.9,1585.7 L2246.9,1585.7 L2249.8,1585.7 L2252.4,1585.7"/>
<path class="curve" stroke="#ff0000" stroke-linecap="round" d="M1496.0,1557.3 L1496.9,1559.0 L1498.2,1561.6 L1499.7,1564.1 L1501.3,1566.6 L1503.1,1569.1 L1504.9,1571.4 L1506.9,1573.7 L1509.0,1575.9 L1511.3,1577.9 L1513.6,1579.8 L1516.0,1581.6 L1518.6,1583.1 L1521.3,1584.2 L1524.1,1585.1 L1527.0,1585.6 L1527.0,1585.6"/>
<path class="curve" stroke="#00008b" stroke-dasharray="20 36" stroke-dashoffset="4.9" stroke-linecap="round" d="M391.0,159.3 L394.1,159.3 L397.1,159.3 L400.0,159.3 L403.0,159.3 L406.0,159.3 L409.0,159.3 L412.0,159.3 L415.0,159.3 L418.0,159.3 L421.0,159.3 L424.0,159.3 L427.0,159.3 L430.0,159.4 L433.0,159.4 L436.0,159.4 L439.0,159.4 L442.0,159.4 L445.0,159.4 L448.0,159.4 L451.0,159.4 L454.0,159.4 L457.0,159.5 L460.0,159.5 L463.0,159.5 L466.0,159.5 L469.0,159.5 L472.0,159.5 L475.0,159.6 L478.0,159.6 L481.0,159.6 L484.0,159.6 L487.0,159.6 L490.0,159.7 L493.0,159.7 L496.0,159.7 L499.0,159.7 L502.0,159.7 L505.0,159.8 L508.0,159.8 L511.0,159.8 L514.0,159.8 L517.0,159.9 L520.0,159.9 L523.0,159.9 L526.0,159.9 L529.0,160.0 L532.0,160.0 L535.0,160.0 L538.0,160.0 L541.0,160.1 L544.0,160.1 L547.0,160.1 L550.0,160.2 L553.0,160.2 L556.0,160.2 L559.0,160.3 L562.0,160.3 L565.0,160.3 L568.0,160.4 L571.0,160.4 L574.0,160.4 L577.0,160.5 L580.0,160.5 L583.0,160.5 L586.0,160.6 L589.0,160.6 L592.0,160.6 L595.0,160.7 L598.0,160.7 L601.0,160.7 L604.0,160.8 L607.0,160.8 L610.0,160.9 L613.0,160.9 L616.0,160.9 L619.0,161.0 L622.0,161.0 L625.0,161.1 L628.0,161.1 L631.0,161.1 L634.0,161.2 L637.0,161.2 L640.0,161.3 L643.0,161.3 L646.0,161.3 L649.0,161.4 L652.0,161.4 L655.0,161.5 L658.0,161.5 L661.0,161.6 L664.0,161.6 L667.0,161.7 L670.0,161.7 L673.0,161.7 L676.0,161.8 L679.0,161.8 L682.0,161.9 L685.0,161.9 L688.0,162.0 L691.0,162.0 L694.0,162.1 L697.0,162.1 L700.0,162.2 L703.0,162.2 L706.0,162.3 L709.0,162.3 L712.0,162.4 L715.0,162.4 L718.0,162.5 L721.0,162.5 L724.0,162.6 L727.0,162.6 L730.0,162.7 L733.0,162.7 L736.0,162.8 L739.0,162.8 L742.0,162.9 L745.0,162.9 L748.0,163.0 L751.0,163.0 L754.0,163.1 L757.0,163.1 L760.0,163.2 L763.0,163.2 L766.0,163.3 L769.0,163.4 L772.0,163.4 L775.0,163.5 L778.0,163.6 L781.0,163.7 L784.0,163.7 L787.0,163.8 L790.0,163.9 L793.0,164.0 L796.0,164.1 L799.0,164.2 L802.0,164.3 L805.0,164.3 L808.0,164.4 L811.0,164.5 L814.0,164.6 L817.0,164.7 L820.0,164.8 L823.0,164.9 L826.0,165.1 L829.0,165.2 L832.0,165.3 L835.0,165.4 L837.9,165.5 L840.9,165.6 L843.9,165.7 L846.9,165.8 L849.9,166.0 L852.9,166.1 L855.9,166.2 L858.9,166.3 L861.9,166.4 L864.9,166.6 L867.9,166.7 L870.9,166.8 L873.9,167.0 L876.9,167.1 L879.9,167.2 L882.9,167.4 L885.9,167.5 L888.9,167.6 L891.9,167.8 L894.9,167.9 L897.9,168.0 L900.9,168.2 L903.9,168.3 L906.9,168.5 L909.9,168.6 L912.9,168.8 L915.9,168.9 L918.9,169.1 L921.9,169.2 L924.9,169.3 L927.9,169.5 L930.9,169.6 L933.9,169.8 L936.9,169.9 L939.8,170.1 L942.8,170.3 L945.8,170.4 L948.8,170.6 L951.8,170.7 L954.8,170.9 L957.8,171.1 L960.8,171.2 L963.8,171.4 L966.8,171.6 L969.8,171.8 L972.8,172.0 L975.8,172.2 L978.8,172.3 L981.8,172.5 L984.8,172.7 L987.8,172.9 L990.8,173.2 L993.8,173.4 L996.8,173.6 L999.8,173.8 L1002.7,174.0 L1005.7,174.2 L1008.7,174.5 L1011.7,174.7 L1014.7,174.9 L1017.7,175.2 L1020.7,175.4 L1023.7,175.7 L1026.7,175.9 L1029.7,176.2 L1032.7,176.4 L1035.6,176.7 L1038.6,177.0 L1041.6,177.2 L1044.6,177.5 L1047.6,177.8 L1050.6,178.1 L1053.5,178.4 L1056.5,178.7 L1059.5,179.0 L1062.5,179.3 L1065.5,179.6 L1068.5,180.0 L1071.4,180.3 L1074.4,180.7 L1077.4,181.0 L1080.4,181.4 L1083.4,181.8 L1086.3,182.2 L1089.3,182.6 L1092.3,183.0 L1095.3,183.4 L1098.2,183.8 L1101.2,184.3 L1104.2,184.7 L1107.1,185.2 L1110.1,185.6 L1113.1,186.1 L1116.0,186.6 L1119.0,187.1 L1121.9,187.6 L1124.9,188.1 L1127.8,188.7 L1130.8,189.2 L1133.7,189.8 L1136.7,190.4 L1139.6,191.0 L1142.6,191.7 L1145.5,192.3 L1148.4,193.0 L1150.0,193.4"/>
<path class="curve" stroke="#00008b" stroke-dasharray="14 31.5" stroke-dashoffset="25.0" stroke-linecap="round" d="M1150.0,193.4 L1151.3,193.7 L1154.2,194.5 L1157.1,195.3 L1160.0,196.0 L1162.9,196.9 L1165.8,197.7 L1168.6,198.6 L1171.5,199.6 L1174.4,200.6 L1177.2,201.6 L1180.0,202.7 L1182.8,203.8 L1185.5,205.0 L1188.2,206.3 L1190.9,207.6 L1193.5,209.0 L1196.1,210.5 L1198.7,212.0 L1201.2,213.7 L1203.7,215.4 L1206.2,217.1 L1208.6,218.9 L1210.9,220.8 L1213.3,222.7 L1215.6,224.6 L1217.8,226.5 L1220.0,228.5 L1222.2,230.6 L1224.3,232.7 L1226.5,234.8 L1228.5,237.0 L1230.6,239.2 L1232.6,241.5 L1234.6,243.7 L1236.6,246.0 L1238.5,248.3 L1240.5,250.6 L1242.4,252.9 L1244.2,255.2 L1246.1,257.6 L1247.9,260.0 L1249.7,262.4 L1251.5,264.8 L1253.3,267.2 L1255.0,269.7 L1256.7,272.2 L1258.4,274.6 L1260.1,277.1 L1261.7,279.6 L1263.3,282.2 L1264.9,284.7 L1266.5,287.2 L1268.1,289.8 L1269.6,292.4 L1271.1,295.0 L1272.6,297.6 L1274.1,300.2 L1275.6,302.8 L1277.0,305.5 L1278.5,308.1 L1279.9,310.8 L1281.2,313.4 L1282.6,316.1 L1283.9,318.8 L1285.2,321.5 L1286.5,324.2 L1287.7,326.9 L1289.0,329.7 L1290.2,332.4 L1291.4,335.2 L1292.5,337.9 L1293.7,340.7 L1294.8,343.5 L1296.0,346.3 L1297.1,349.0 L1298.2,351.8 L1299.3,354.6 L1300.3,357.4 L1301.4,360.3 L1302.4,363.1 L1303.4,365.9 L1304.4,368.7 L1305.5,371.5 L1306.5,374.3 L1307.6,377.2 L1308.6,380.0 L1309.7,382.8 L1310.7,385.6 L1311.8,388.4 L1312.8,391.2 L1313.8,394.0 L1314.9,396.8 L1315.9,399.7 L1316.9,402.5 L1317.9,405.3 L1319.0,408.1 L1320.0,411.0 L1321.0,413.8 L1322.0,416.6 L1323.1,419.4 L1324.1,422.3 L1325.1,425.1 L1326.0,428.0 L1327.0,430.8 L1327.9,433.7 L1328.8,436.5 L1329.7,439.4 L1330.5,442.2 L1331.3,445.1 L1332.1,448.0 L1332.8,450.9 L1333.5,453.8 L1334.2,456.7 L1334.9,459.7 L1335.6,462.6 L1336.2,465.5 L1336.9,468.5 L1337.5,471.4 L1338.1,474.3 L1338.7,477.3 L1339.2,480.3 L1339.8,483.2 L1340.3,486.2 L1340.8,489.1 L1341.3,492.1 L1341.7,495.0 L1342.2,498.0 L1342.6,501.0 L1343.0,503.9 L1343.4,506.9 L1343.8,509.9 L1344.2,512.8 L1344.6,515.8 L1344.9,518.8 L1345.2,521.8 L1345.6,524.7 L1345.9,527.7 L1346.2,530.7 L1346.6,533.7 L1346.9,536.7 L1347.2,539.7 L1347.5,542.7 L1347.8,545.6 L1348.1,548.6 L1348.4,551.6 L1348.7,554.6 L1349.0,557.6 L1349.3,560.6 L1349.6,563.6 L1349.9,566.6 L1350.3,569.5 L1350.6,572.5 L1350.9,575.5 L1351.3,578.5 L1351.6,581.5 L1352.0,584.5 L1352.4,587.4 L1352.7,590.4 L1353.1,593.4 L1353.5,596.3 L1353.9,599.3 L1354.3,602.3 L1354.8,605.3 L1355.2,608.2 L1355.6,611.2 L1356.1,614.2 L1356.5,617.1 L1356.9,620.1 L1357.4,623.1 L1357.8,626.0 L1358.3,629.0 L1358.8,632.0 L1359.2,634.9 L1359.7,637.9 L1360.1,640.9 L1360.6,643.8 L1361.1,646.8 L1361.5,649.8 L1361.5,650.0"/>
<path class="curve" stroke="#00008b" stroke-dasharray="18 39" stroke-dashoffset="5.2" stroke-linecap="round" d="M1361.5,650.0 L1362.0,652.7 L1362.4,655.7 L1362.9,658.7 L1363.3,661.6 L1363.8,664.6 L1364.2,667.6 L1364.7,670.5 L1365.1,673.5 L1365.5,676.5 L1366.0,679.4 L1366.4,682.4 L1366.8,685.4 L1367.2,688.3 L1367.6,691.3 L1368.0,694.3 L1368.5,697.3 L1368.9,700.2 L1369.3,703.2 L1369.7,706.2 L1370.1,709.1 L1370.5,712.1 L1371.0,715.1 L1371.4,718.1 L1371.8,721.0 L1372.2,724.0 L1372.6,727.0 L1373.0,729.9 L1373.4,732.9 L1373.8,735.9 L1374.2,738.9 L1374.6,741.8 L1375.0,744.8 L1375.4,747.8 L1375.8,750.8 L1376.2,753.7 L1376.5,756.7 L1376.9,759.7 L1377.3,762.7 L1377.7,765.6 L1378.0,768.6 L1378.4,771.6 L1378.8,774.6 L1379.1,777.6 L1379.5,780.5 L1379.8,783.5 L1380.1,786.5 L1380.5,789.5 L1380.8,792.5 L1381.1,795.4 L1381.4,798.4 L1381.7,801.4 L1382.1,804.4 L1382.4,807.4 L1382.7,810.4 L1383.0,813.3 L1383.3,816.3 L1383.6,819.3 L1383.9,822.3 L1384.1,825.3 L1384.4,828.3 L1384.7,831.3 L1385.0,834.2 L1385.3,837.2 L1385.5,840.2 L1385.8,843.2 L1386.1,846.2 L1386.4,849.2 L1386.6,852.2 L1386.9,855.2 L1387.2,858.1 L1387.4,861.1 L1387.7,864.1 L1388.0,867.1 L1388.2,870.1 L1388.5,873.1 L1388.8,876.1 L1389.0,879.1 L1389.3,882.1 L1389.5,885.0 L1389.8,888.0 L1390.1,891.0 L1390.3,894.0 L1390.6,897.0 L1390.9,900.0 L1391.1,903.0 L1391.4,906.0 L1391.6,909.0 L1391.9,911.9 L1392.1,914.9 L1392.4,917.9 L1392.6,920.9 L1392.9,923.9 L1393.1,926.9 L1393.3,929.9 L1393.6,932.9 L1393.8,935.9 L1394.1,938.9 L1394.3,941.8 L1394.5,944.8 L1394.8,947.8 L1395.0,950.8 L1395.3,953.8 L1395.5,956.8 L1395.7,959.8 L1396.0,962.8 L1396.2,965.8 L1396.5,968.8 L1396.7,971.7 L1397.0,974.7 L1397.2,977.7 L1397.5,980.7 L1397.7,983.7 L1398.0,986.7 L1398.3,989.7 L1398.5,992.7 L1398.8,995.7 L1399.1,998.6 L1399.3,1001.6 L1399.6,1004.6 L1399.9,1007.6 L1400.1,1010.6 L1400.4,1013.6 L1400.7,1016.6 L1401.0,1019.6 L1401.2,1022.5 L1401.5,1025.5 L1401.8,1028.5 L1402.1,1031.5 L1402.4,1034.5 L1402.6,1037.5 L1402.9,1040.5 L1403.2,1043.5 L1403.5,1046.4 L1403.8,1049.4 L1404.1,1052.4 L1404.4,1055.4 L1404.7,1058.4 L1404.9,1061.4 L1405.2,1064.4 L1405.5,1067.3 L1405.8,1070.3 L1406.1,1073.3 L1406.4,1076.3 L1406.7,1079.3 L1407.0,1082.3 L1407.3,1085.3 L1407.6,1088.2 L1407.9,1091.2 L1408.2,1094.2 L1408.5,1097.2 L1408.8,1100.2 L1409.1,1103.2 L1409.4,1106.1 L1409.7,1109.1 L1410.1,1112.1 L1410.4,1115.1 L1410.7,1118.1 L1411.0,1121.1 L1411.3,1124.1 L1411.6,1127.0 L1411.9,1130.0 L1412.3,1133.0 L1412.6,1136.0 L1412.9,1139.0 L1413.2,1141.9 L1413.5,1144.9 L1413.9,1147.9 L1414.2,1150.9 L1414.5,1153.9 L1414.9,1156.9 L1415.2,1159.8 L1415.5,1162.8 L1415.9,1165.8 L1416.2,1168.8 L1416.5,1171.8 L1416.9,1174.7 L1417.2,1177.7 L1417.6,1180.7 L1417.9,1183.7 L1418.3,1186.7 L1418.6,1189.6 L1419.0,1192.6 L1419.3,1195.6 L1419.7,1198.6 L1420.1,1201.6 L1420.4,1204.5 L1420.8,1207.5 L1421.2,1210.5 L1421.6,1213.5 L1421.9,1216.4 L1422.3,1219.4 L1422.7,1222.4 L1423.1,1225.4 L1423.4,1228.3 L1423.8,1231.3 L1424.2,1234.3 L1424.6,1237.3 L1424.9,1240.3 L1425.3,1243.2 L1425.7,1246.2 L1426.0,1249.2 L1426.4,1252.2 L1426.8,1255.1 L1427.2,1258.1 L1427.5,1261.1 L1427.9,1264.1 L1428.3,1267.0 L1428.7,1270.0 L1429.0,1273.0 L1429.4,1276.0 L1429.8,1278.9 L1430.2,1281.9 L1430.5,1284.9 L1430.9,1287.9 L1431.3,1290.9 L1431.6,1293.8 L1432.0,1296.8 L1432.3,1299.8 L1432.7,1302.8 L1433.1,1305.7 L1433.4,1308.7 L1433.8,1311.7 L1434.1,1314.7 L1434.5,1317.7 L1434.8,1320.6 L1435.2,1323.6 L1435.5,1326.6 L1435.9,1329.6 L1436.2,1332.6 L1436.6,1335.5 L1436.9,1338.5 L1437.3,1341.5 L1437.6,1344.5 L1438.0,1347.5 L1438.3,1350.4 L1438.6,1353.4 L1439.0,1356.4 L1439.3,1359.4 L1439.6,1362.4 L1439.9,1365.4 L1440.2,1368.3 L1440.5,1371.3 L1440.8,1374.3 L1441.2,1377.3 L1441.5,1380.3 L1441.8,1383.3 L1442.1,1386.2 L1442.4,1389.2 L1442.7,1392.2 L1443.1,1395.2 L1443.4,1398.2 L1443.7,1401.2 L1444.0,1404.1 L1444.4,1407.1 L1444.7,1410.1 L1445.1,1413.1 L1445.4,1416.1 L1445.8,1419.0 L1446.1,1422.0 L1446.5,1425.0 L1446.8,1428.0 L1447.2,1431.0 L1447.5,1433.9 L1447.9,1436.9 L1448.2,1439.9 L1448.6,1442.9 L1449.0,1445.9 L1449.3,1448.8 L1449.7,1451.8 L1450.1,1454.8 L1450.5,1457.8 L1450.9,1460.7 L1451.3,1463.7 L1451.7,1466.7 L1452.1,1469.7 L1452.5,1472.6 L1453.0,1475.6 L1453.4,1478.6 L1453.9,1481.5 L1454.3,1484.5 L1454.8,1487.4 L1455.3,1490.4 L1455.8,1493.4 L1456.3,1496.3 L1456.9,1499.3 L1457.4,1502.2 L1458.0,1505.2 L1458.6,1508.1 L1459.2,1511.1 L1459.7,1514.0 L1460.3,1517.0 L1460.9,1519.9 L1461.5,1522.9 L1462.2,1525.8 L1462.9,1528.7 L1463.7,1531.6 L1464.5,1534.5 L1465.4,1537.3 L1466.4,1540.1 L1467.6,1542.8 L1468.8,1545.5 L1470.2,1548.2 L1471.6,1550.9 L1473.1,1553.5 L1474.6,1556.1 L1476.0,1558.6"/>
<path class="curve" stroke="#00008b" stroke-dasharray="23 38.5" stroke-dashoffset="35.4" stroke-linecap="round" d="M1527.0,1580.6 L1529.7,1580.6 L1532.7,1580.6 L1535.7,1580.6 L1538.7,1580.6 L1541.7,1580.6 L1544.7,1580.6 L1547.7,1580.6 L1550.7,1580.6 L1553.7,1580.6 L1556.6,1580.6 L1559.6,1580.6 L1562.6,1580.6 L1565.6,1580.6 L1568.6,1580.6 L1571.6,1580.6 L1574.6,1580.6 L1577.6,1580.6 L1580.6,1580.6 L1583.6,1580.6 L1586.6,1580.6 L1589.7,1580.6 L1592.7,1580.6 L1595.7,1580.6 L1598.7,1580.6 L1601.7,1580.6 L1604.7,1580.6 L1607.7,1580.6 L1610.7,1580.6 L1613.7,1580.6 L1616.7,1580.6 L1619.7,1580.6 L1622.7,1580.6 L1625.7,1580.6 L1628.7,1580.6 L1631.7,1580.6 L1634.7,1580.6 L1637.7,1580.6 L1640.7,1580.6 L1643.8,1580.6 L1646.8,1580.6 L1649.8,1580.6 L1652.8,1580.6 L1655.8,1580.6 L1658.8,1580.6 L1661.8,1580.6 L1664.8,1580.6 L1667.8,1580.6 L1670.8,1580.6 L1673.8,1580.6 L1676.8,1580.6 L1679.8,1580.6 L1682.8,1580.6 L1685.8,1580.6 L1688.8,1580.6 L1691.8,1580.6 L1694.8,1580.6 L1697.8,1580.6 L1700.8,1580.6 L1703.8,1580.6 L1706.8,1580.6 L1709.8,1580.6 L1712.8,1580.6 L1715.8,1580.6 L1718.8,1580.6 L1721.8,1580.6 L1724.8,1580.6 L1727.8,1580.6 L1730.8,1580.6 L1733.8,1580.6 L1736.8,1580.6 L1739.8,1580.6 L1742.8,1580.6 L1745.8,1580.6 L1748.8,1580.6 L1751.8,1580.6 L1754.8,1580.6 L1757.8,1580.6 L1760.8,1580.6 L1763.8,1580.6 L1766.8,1580.6 L1769.8,1580.6 L1772.8,1580.6 L1775.8,1580.6 L1778.8,1580.6 L1781.8,1580.6 L1784.8,1580.6 L1787.8,1580.6 L1790.8,1580.6 L1793.8,1580.6 L1796.8,1580.6 L1799.8,1580.6 L1802.8,1580.5 L1805.8,1580.5 L1808.8,1580.5 L1811.8,1580.5 L1814.8,1580.5 L1817.8,1580.5 L1820.8,1580.5 L1823.8,1580.5 L1826.8,1580.5 L1829.8,1580.5 L1832.8,1580.5 L1835.8,1580.5 L1838.8,1580.5 L1841.8,1580.5 L1844.8,1580.5 L1847.8,1580.5 L1850.8,1580.5 L1853.8,1580.5 L1856.8,1580.5 L1859.8,1580.5 L1862.8,1580.5 L1865.8,1580.5 L1868.8,1580.5 L1871.8,1580.5 L1874.8,1580.5 L1877.8,1580.5 L1880.8,1580.5 L1883.8,1580.5 L1886.8,1580.5 L1889.8,1580.5 L1892.8,1580.4 L1895.8,1580.4 L1898.8,1580.4 L1901.8,1580.4 L1904.8,1580.4 L1907.8,1580.4 L1910.8,1580.4 L1913.8,1580.4 L1916.8,1580.4 L1919.8,1580.4 L1922.8,1580.4 L1925.8,1580.4 L1928.8,1580.4 L1931.8,1580.4 L1934.8,1580.4 L1937.8,1580.4 L1940.8,1580.4 L1943.8,1580.4 L1946.8,1580.4 L1949.8,1580.4 L1952.8,1580.4 L1955.8,1580.4 L1958.8,1580.4 L1961.8,1580.4 L1964.8,1580.3 L1967.8,1580.3 L1970.8,1580.3 L1973.8,1580.3 L1976.8,1580.3 L1979.8,1580.3 L1982.8,1580.3 L1985.8,1580.3 L1988.8,1580.3 L1991.8,1580.3 L1994.8,1580.3 L1997.8,1580.3 L2000.8,1580.3 L2003.8,1580.3 L2006.8,1580.3 L2009.8,1580.3 L2012.8,1580.3 L2015.8,1580.3 L2018.8,1580.3 L2021.8,1580.3 L2024.8,1580.3 L2027.8,1580.3 L2030.8,1580.3 L2033.8,1580.3 L2036.8,1580.2 L2039.8,1580.2 L2042.8,1580.2 L2045.8,1580.2 L2048.8,1580.2 L2051.8,1580.2 L2054.8,1580.2 L2057.8,1580.2 L2060.8,1580.2 L2063.8,1580.2 L2066.8,1580.2 L2069.8,1580.2 L2072.8,1580.2 L2075.8,1580.2 L2078.8,1580.2 L2081.8,1580.2 L2084.8,1580.2 L2087.8,1580.2 L2090.8,1580.2 L2093.8,1580.1 L2096.8,1580.1 L2099.8,1580.1 L2102.8,1580.1 L2105.8,1580.1 L2108.8,1580.1 L2111.8,1580.1 L2114.8,1580.1 L2117.8,1580.1 L2120.8,1580.1 L2123.8,1580.1 L2126.8,1580.1 L2129.8,1580.1 L2132.8,1580.1 L2135.8,1580.1 L2138.8,1580.1 L2141.8,1580.1 L2144.8,1580.0 L2147.8,1580.0 L2150.8,1580.0 L2153.8,1580.0 L2156.8,1580.0 L2159.8,1580.0 L2162.8,1580.0 L2165.8,1580.0 L2168.8,1580.0 L2171.8,1580.0 L2174.8,1580.0 L2177.8,1580.0 L2180.8,1580.0 L2183.8,1580.0 L2186.8,1580.0 L2189.8,1579.9 L2192.8,1579.9 L2195.8,1579.9 L2198.8,1579.9 L2201.8,1579.9 L2204.8,1579.9 L2207.8,1579.9 L2210.8,1579.9 L2213.8,1579.9 L2216.8,1579.9 L2219.8,1579.9 L2222.8,1579.9 L2225.8,1579.9 L2228.8,1579.9 L2231.8,1579.8 L2234.8,1579.8 L2237.8,1579.8 L2240.8,1579.8 L2243.8,1579.8 L2246.7,1579.8 L2249.7,1579.8 L2252.4,1579.8"/>
<path class="curve" stroke="#00008b" stroke-linecap="round" d="M1476.0,1558.6 L1476.1,1558.8 L1477.7,1561.4 L1479.3,1564.0 L1480.9,1566.5 L1482.7,1568.9 L1484.6,1571.1 L1486.7,1573.2 L1489.1,1575.0 L1491.6,1576.6 L1494.3,1577.9 L1497.0,1578.9 L1499.9,1579.6 L1502.8,1580.1 L1505.8,1580.4 L1508.8,1580.5 L1511.8,1580.6 L1514.8,1580.6 L1517.8,1580.6 L1520.7,1580.6 L1523.7,1580.6 L1526.7,1580.6 L1527.0,1580.6"/>
<path class="curve" stroke="#0000ff" d="M391.0,157.5 L394.1,157.6 L397.1,157.6 L400.0,157.7 L403.0,157.7 L406.0,157.8 L409.0,157.8 L412.0,157.9 L415.0,157.9 L418.0,158.0 L421.0,158.0 L424.0,158.1 L427.0,158.2 L430.0,158.2 L433.0,158.3 L436.0,158.3 L439.0,158.4 L442.0,158.4 L445.0,158.5 L448.0,158.5 L451.0,158.6 L454.0,158.7 L457.0,158.7 L460.0,158.8 L463.0,158.8 L466.0,158.9 L469.0,158.9 L472.0,159.0 L475.0,159.1 L478.0,159.1 L481.0,159.2 L484.0,159.2 L487.0,159.3 L490.0,159.3 L493.0,159.4 L496.0,159.4 L499.0,159.5 L502.0,159.5 L505.0,159.6 L508.0,159.7 L511.0,159.7 L514.0,159.8 L517.0,159.8 L520.0,159.9 L523.0,159.9 L526.0,160.0 L529.0,160.0 L532.0,160.1 L535.0,160.1 L538.0,160.2 L541.0,160.3 L544.0,160.3 L547.0,160.4 L550.0,160.4 L553.0,160.5 L556.0,160.6 L559.0,160.6 L562.0,160.7 L565.0,160.8 L568.0,160.8 L571.0,160.9 L574.0,161.0 L577.0,161.0 L580.0,161.1 L583.0,161.2 L586.0,161.2 L589.0,161.3 L592.0,161.4 L595.0,161.4 L598.0,161.5 L601.0,161.6 L604.0,161.6 L607.0,161.7 L610.0,161.8 L613.0,161.8 L616.0,161.9 L619.0,162.0 L622.0,162.0 L625.0,162.1 L628.0,162.2 L631.0,162.2 L634.0,162.3 L637.0,162.4 L640.0,162.5 L642.9,162.5 L645.9,162.6 L648.9,162.7 L651.9,162.8 L654.9,162.8 L657.9,162.9 L660.9,163.0 L663.9,163.1 L666.9,163.2 L669.9,163.3 L672.9,163.4 L675.9,163.5 L678.9,163.6 L681.9,163.7 L684.9,163.8 L687.9,163.9 L690.9,164.0 L693.9,164.1 L696.9,164.2 L699.9,164.2 L702.9,164.3 L705.9,164.4 L708.9,164.5 L711.9,164.6 L714.9,164.7 L717.9,164.8 L720.9,164.9 L723.9,165.0 L726.9,165.1 L729.9,165.2 L732.9,165.3 L735.9,165.4 L738.9,165.5 L741.9,165.6 L744.9,165.7 L747.9,165.8 L750.9,165.9 L753.9,166.0 L756.9,166.1 L759.9,166.2 L762.9,166.3 L765.9,166.4 L768.9,166.5 L771.9,166.6 L774.9,166.7 L777.9,166.8 L780.9,166.9 L783.9,167.0 L786.9,167.1 L789.9,167.2 L792.9,167.3 L795.9,167.4 L798.9,167.5 L801.9,167.6 L804.9,167.7 L807.9,167.8 L810.9,168.0 L813.9,168.1 L816.9,168.2 L819.9,168.3 L822.9,168.4 L825.9,168.5 L828.8,168.6 L831.8,168.7 L834.8,168.9 L837.8,169.0 L840.8,169.1 L843.8,169.2 L846.8,169.3 L849.8,169.4 L852.8,169.6 L855.8,169.7 L858.8,169.8 L861.8,169.9 L864.8,170.1 L867.8,170.2 L870.8,170.3 L873.8,170.4 L876.8,170.5 L879.8,170.6 L882.8,170.6 L885.8,170.7 L888.8,170.8 L891.8,170.9 L894.8,171.0 L897.8,171.0 L900.8,171.1 L903.8,171.2 L906.8,171.2 L909.8,171.3 L912.8,171.4 L915.8,171.4 L918.8,171.5 L921.8,171.6 L924.8,171.7 L927.8,171.7 L930.8,171.8 L933.8,171.9 L936.8,172.0 L939.8,172.0 L942.8,172.1 L945.8,172.2 L948.8,172.3 L951.8,172.3 L954.8,172.4 L957.8,172.5 L960.8,172.5 L963.8,172.6 L966.8,172.7 L969.8,172.8 L972.8,172.8 L975.8,172.9 L978.8,173.0 L981.8,173.1 L984.8,173.2 L987.8,173.2 L990.8,173.3 L993.8,173.4 L996.8,173.5 L999.8,173.6 L1002.8,173.6 L1005.8,173.7 L1008.8,173.8 L1011.8,173.9 L1014.8,174.0 L1017.8,174.1 L1020.8,174.2 L1023.8,174.3 L1026.8,174.4 L1029.8,174.5 L1032.8,174.6 L1035.8,174.7 L1038.8,174.8 L1041.8,174.9 L1044.8,175.0 L1047.7,175.1 L1050.7,175.2 L1053.7,175.3 L1056.7,175.5 L1059.7,175.6 L1062.7,175.7 L1065.7,175.9 L1068.7,176.0 L1071.7,176.1 L1074.7,176.3 L1077.7,176.4 L1080.7,176.6 L1083.7,176.8 L1086.7,177.0 L1089.7,177.2 L1092.7,177.4 L1095.7,177.7 L1098.7,177.9 L1101.7,178.2 L1104.6,178.5 L1107.6,178.9 L1110.6,179.2 L1113.6,179.5 L1116.6,179.9 L1119.5,180.3 L1122.5,180.8 L1125.5,181.2 L1128.4,181.7 L1131.4,182.1 L1134.4,182.6 L1137.3,183.1 L1140.3,183.7 L1143.2,184.2 L1146.2,184.8 L1149.1,185.4 L1152.0,186.0 L1155.0,186.6 L1157.9,187.3 L1160.8,188.0 L1163.8,188.7 L1166.7,189.4 L1169.6,190.2 L1172.4,191.1 L1175.3,192.0 L1178.1,193.0 L1180.9,194.1 L1183.6,195.2 L1186.3,196.5 L1189.0,197.9 L1191.6,199.3 L1194.3,200.8 L1196.9,202.3 L1199.4,203.9 L1202.0,205.5 L1204.5,207.0 L1207.1,208.7 L1209.6,210.3 L1212.0,212.0 L1214.5,213.8 L1216.9,215.5 L1219.4,217.3 L1221.8,219.1 L1224.2,220.9 L1226.5,222.7 L1228.9,224.6 L1231.2,226.4 L1233.6,228.3 L1235.9,230.3 L1238.2,232.2 L1240.5,234.2 L1242.7,236.1 L1244.9,238.2 L1247.1,240.2 L1249.3,242.3 L1251.4,244.3 L1253.6,246.5 L1255.7,248.6 L1257.7,250.8 L1259.8,253.0 L1261.8,255.2 L1263.8,257.5 L1265.7,259.7 L1267.6,262.0 L1269.5,264.4 L1271.4,266.7 L1273.2,269.1 L1275.0,271.6 L1276.7,274.0 L1278.5,276.4 L1280.2,278.9 L1281.8,281.4 L1283.5,283.9 L1285.1,286.4 L1286.7,288.9 L1288.3,291.5 L1289.9,294.1 L1291.4,296.6 L1292.9,299.2 L1294.4,301.8 L1295.9,304.4 L1297.4,307.1 L1298.8,309.7 L1300.2,312.3 L1301.6,315.0 L1303.0,317.7 L1304.4,320.3 L1305.6,323.0 L1306.9,325.8 L1308.1,328.5 L1309.3,331.3 L1310.5,334.0 L1311.6,336.8 L1312.7,339.6 L1313.8,342.4 L1314.9,345.2 L1315.9,348.0 L1316.9,350.8 L1317.9,353.7 L1318.8,356.5 L1319.8,359.4 L1320.7,362.2 L1321.6,365.1 L1322.5,367.9 L1323.4,370.8 L1324.3,373.7 L1325.3,376.5 L1326.2,379.4 L1327.1,382.2 L1327.9,385.1 L1328.8,388.0 L1329.7,390.9 L1330.5,393.7 L1331.4,396.6 L1332.2,399.5 L1333.0,402.4 L1333.8,405.3 L1334.6,408.2 L1335.5,411.0 L1336.3,413.9 L1337.1,416.8 L1337.9,419.7 L1338.8,422.6 L1339.6,425.5 L1340.4,428.3 L1341.3,431.2 L1342.1,434.1 L1342.9,437.0 L1343.7,439.9 L1344.5,442.8 L1345.3,445.7 L1346.1,448.6 L1346.8,451.5 L1347.6,454.4 L1348.4,457.3 L1349.1,460.2 L1349.8,463.1 L1350.6,466.0 L1351.3,468.9 L1352.0,471.8 L1352.7,474.8 L1353.4,477.7 L1354.0,480.6 L1354.7,483.5 L1355.4,486.4 L1356.0,489.4 L1356.7,492.3 L1357.3,495.2 L1358.0,498.2 L1358.6,501.1 L1359.2,504.0 L1359.9,507.0 L1360.5,509.9 L1361.2,512.8 L1361.8,515.7 L1362.4,518.7 L1363.1,521.6 L1363.7,524.5 L1364.3,527.5 L1364.9,530.4 L1365.5,533.4 L1366.1,536.3 L1366.7,539.2 L1367.2,542.2 L1367.8,545.1 L1368.4,548.1 L1369.0,551.0 L1369.5,554.0 L1370.1,556.9 L1370.6,559.9 L1371.2,562.8 L1371.7,565.8 L1372.2,568.7 L1372.8,571.7 L1373.3,574.6 L1373.9,577.6 L1374.4,580.5 L1375.0,583.5 L1375.5,586.4 L1376.0,589.4 L1376.6,592.3 L1377.1,595.3 L1377.7,598.2 L1378.2,601.2 L1378.7,604.1 L1379.3,607.1 L1379.8,610.0 L1380.4,613.0 L1380.9,615.9 L1381.4,618.9 L1381.9,621.8 L1382.5,624.8 L1383.0,627.8 L1383.5,630.7 L1384.0,633.7 L1384.5,636.6 L1385.0,639.6 L1385.5,642.5 L1386.0,645.5 L1386.5,648.5 L1387.0,651.4 L1387.5,654.4 L1388.0,657.3 L1388.5,660.3 L1389.0,663.3 L1389.5,666.2 L1389.9,669.2 L1390.4,672.1 L1390.9,675.1 L1391.4,678.1 L1391.9,681.0 L1392.3,684.0 L1392.8,686.9 L1393.3,689.9 L1393.8,692.9 L1394.2,695.8 L1394.7,698.8 L1395.2,701.8 L1395.7,704.7 L1396.2,707.7 L1396.6,710.6 L1397.1,713.6 L1397.6,716.6 L1398.0,719.5 L1398.5,722.5 L1399.0,725.5 L1399.4,728.4 L1399.9,731.4 L1400.4,734.3 L1400.8,737.3 L1401.3,740.3 L1401.7,743.2 L1402.1,746.2 L1402.6,749.2 L1403.0,752.1 L1403.4,755.1 L1403.9,758.1 L1404.3,761.1 L1404.7,764.0 L1405.2,767.0 L1405.6,770.0 L1406.0,772.9 L1406.5,775.9 L1406.9,778.9 L1407.3,781.8 L1407.8,784.8 L1408.2,787.8 L1408.7,790.7 L1409.1,793.7 L1409.5,796.7 L1410.0,799.6 L1410.4,802.6 L1410.9,805.6 L1411.3,808.5 L1411.7,811.5 L1412.2,814.5 L1412.6,817.5 L1413.0,820.4 L1413.4,823.4 L1413.8,826.4 L1414.3,829.3 L1414.7,832.3 L1415.1,835.3 L1415.5,838.3 L1415.9,841.2 L1416.3,844.2 L1416.7,847.2 L1417.1,850.1 L1417.5,853.1 L1417.9,856.1 L1418.3,859.1 L1418.6,862.0 L1419.0,865.0 L1419.4,868.0 L1419.8,871.0 L1420.2,873.9 L1420.6,876.9 L1421.0,879.9 L1421.4,882.9 L1421.8,885.8 L1422.2,888.8 L1422.6,891.8 L1423.0,894.8 L1423.4,897.7 L1423.8,900.7 L1424.2,903.7 L1424.6,906.7 L1425.0,909.6 L1425.3,912.6 L1425.7,915.6 L1426.1,918.5 L1426.5,921.5 L1426.9,924.5 L1427.3,927.5 L1427.7,930.4 L1428.1,933.4 L1428.5,936.4 L1428.9,939.4 L1429.3,942.3 L1429.7,945.3 L1430.0,948.3 L1430.4,951.3 L1430.8,954.2 L1431.2,957.2 L1431.6,960.2 L1432.0,963.2 L1432.4,966.1 L1432.8,969.1 L1433.2,972.1 L1433.6,975.1 L1433.9,978.0 L1434.3,981.0 L1434.7,984.0 L1435.1,987.0 L1435.5,989.9 L1435.9,992.9 L1436.3,995.9 L1436.7,998.9 L1437.1,1001.8 L1437.5,1004.8 L1437.9,1007.8 L1438.3,1010.8 L1438.7,1013.7 L1439.0,1016.7 L1439.4,1019.7 L1439.8,1022.7 L1440.2,1025.6 L1440.6,1028.6 L1441.0,1031.6 L1441.4,1034.5 L1441.8,1037.5 L1442.2,1040.5 L1442.6,1043.5 L1443.0,1046.4 L1443.4,1049.4 L1443.8,1052.4 L1444.2,1055.4 L1444.6,1058.3 L1445.0,1061.3 L1445.4,1064.3 L1445.8,1067.3 L1446.2,1070.2 L1446.6,1073.2 L1447.0,1076.2 L1447.4,1079.1 L1447.8,1082.1 L1448.2,1085.1 L1448.6,1088.1 L1448.9,1091.0 L1449.3,1094.0 L1449.7,1097.0 L1450.1,1100.0 L1450.4,1103.0 L1450.8,1105.9 L1451.2,1108.9 L1451.6,1111.9 L1451.9,1114.9 L1452.3,1117.8 L1452.7,1120.8 L1453.1,1123.8 L1453.5,1126.8 L1453.8,1129.7 L1454.2,1132.7 L1454.6,1135.7 L1455.0,1138.7 L1455.4,1141.6 L1455.8,1144.6 L1456.1,1147.6 L1456.5,1150.6 L1456.9,1153.5 L1457.2,1156.5 L1457.6,1159.5 L1458.0,1162.5 L1458.3,1165.5 L1458.7,1168.4 L1459.1,1171.4 L1459.5,1174.4 L1459.9,1177.4 L1460.3,1180.3 L1460.7,1183.3 L1461.1,1186.3 L1461.6,1189.2 L1462.1,1192.2 L1462.5,1195.2 L1463.0,1198.1 L1463.5,1201.1 L1464.1,1204.0 L1464.6,1207.0 L1465.1,1209.9 L1465.7,1212.9 L1466.2,1215.8 L1466.8,1218.8 L1467.3,1221.7 L1467.9,1224.7 L1468.5,1227.6 L1469.2,1230.5 L1469.8,1233.5 L1470.5,1236.4 L1471.1,1239.3 L1471.8,1242.2 L1472.5,1245.2 L1473.3,1248.1 L1474.0,1251.0 L1474.8,1253.9 L1475.6,1256.8 L1476.4,1259.7 L1477.3,1262.5 L1478.2,1265.4 L1479.1,1268.2 L1480.0,1271.1 L1481.0,1273.9 L1482.0,1276.8 L1483.1,1279.6 L1484.1,1282.4 L1485.2,1285.2 L1486.4,1288.0 L1487.5,1290.7 L1488.7,1293.5 L1489.9,1296.2 L1491.1,1299.0 L1492.4,1301.7 L1493.7,1304.4 L1495.1,1307.1 L1496.5,1309.7 L1498.0,1312.3 L1499.5,1314.9 L1501.0,1317.5 L1502.7,1320.0 L1504.4,1322.5 L1506.1,1324.9 L1508.0,1327.3 L1510.0,1329.5 L1512.1,1331.6 L1514.4,1333.6 L1516.7,1335.5 L1519.1,1337.3 L1521.6,1338.9 L1524.2,1340.3 L1526.9,1341.7 L1529.7,1342.8 L1532.5,1343.9 L1535.4,1344.8 L1538.3,1345.6 L1541.2,1346.2 L1544.1,1346.7 L1547.1,1347.1 L1550.0,1347.4 L1553.0,1347.6 L1556.0,1347.9 L1559.0,1348.1 L1562.1,1348.3 L1565.1,1348.4 L1568.1,1348.5 L1571.1,1348.6 L1574.1,1348.7 L1577.1,1348.8 L1580.1,1348.8 L1583.1,1348.9 L1586.1,1348.9 L1589.1,1349.0 L1592.1,1349.1 L1595.1,1349.1 L1598.1,1349.1 L1601.1,1349.2 L1604.1,1349.2 L1607.1,1349.2 L1610.1,1349.3 L1613.1,1349.3 L1616.1,1349.3 L1619.1,1349.3 L1622.1,1349.3 L1625.1,1349.3 L1628.1,1349.3 L1631.1,1349.3 L1634.1,1349.3 L1637.1,1349.3 L1640.1,1349.3 L1643.1,1349.3 L1646.1,1349.3 L1649.1,1349.3 L1652.1,1349.3 L1655.1,1349.3 L1658.1,1349.3 L1661.1,1349.3 L1664.1,1349.3 L1667.1,1349.3 L1670.1,1349.3 L1673.1,1349.3 L1676.1,1349.3 L1679.1,1349.3 L1682.1,1349.3 L1685.1,1349.4 L1688.1,1349.4 L1691.1,1349.4 L1694.1,1349.4 L1697.1,1349.4 L1700.1,1349.4 L1703.1,1349.4 L1706.1,1349.4 L1709.1,1349.4 L1712.1,1349.4 L1715.1,1349.4 L1718.1,1349.4 L1721.1,1349.4 L1724.1,1349.4 L1727.1,1349.4 L1730.1,1349.4 L1733.1,1349.4 L1736.1,1349.4 L1739.1,1349.4 L1742.1,1349.4 L1745.1,1349.4 L1748.1,1349.4 L1751.1,1349.4 L1754.1,1349.4 L1757.1,1349.4 L1760.1,1349.4 L1763.1,1349.4 L1766.1,1349.4 L1769.1,1349.4 L1772.1,1349.4 L1775.1,1349.4 L1778.1,1349.4 L1781.1,1349.4 L1784.1,1349.4 L1787.1,1349.4 L1790.1,1349.4 L1793.1,1349.4 L1796.1,1349.4 L1799.1,1349.4 L1802.1,1349.4 L1805.1,1349.4 L1808.1,1349.4 L1811.1,1349.4 L1814.1,1349.4 L1817.1,1349.4 L1820.1,1349.4 L1823.1,1349.4 L1826.1,1349.4 L1829.1,1349.4 L1832.1,1349.4 L1835.1,1349.4 L1838.1,1349.4 L1841.1,1349.4 L1844.1,1349.4 L1847.1,1349.4 L1850.1,1349.4 L1853.1,1349.4 L1856.1,1349.4 L1859.1,1349.4 L1862.1,1349.4 L1865.1,1349.4 L1868.1,1349.4 L1871.1,1349.4 L1874.1,1349.4 L1877.1,1349.4 L1880.1,1349.5 L1883.1,1349.5 L1886.1,1349.5 L1889.1,1349.5 L1892.1,1349.5 L1895.1,1349.5 L1898.1,1349.5 L1901.1,1349.5 L1904.1,1349.5 L1907.1,1349.5 L1910.1,1349.5 L1913.1,1349.5 L1916.1,1349.5 L1919.1,1349.5 L1922.1,1349.5 L1925.1,1349.5 L1928.1,1349.5 L1931.1,1349.5 L1934.1,1349.5 L1937.1,1349.5 L1940.1,1349.5 L1943.1,1349.5 L1946.1,1349.5 L1949.1,1349.5 L1952.1,1349.5 L1955.1,1349.5 L1958.1,1349.5 L1961.1,1349.5 L1964.1,1349.5 L1967.1,1349.5 L1970.1,1349.5 L1973.1,1349.5 L1976.1,1349.5 L1979.1,1349.5 L1982.1,1349.5 L1985.1,1349.5 L1988.1,1349.5 L1991.1,1349.5 L1994.1,1349.5 L1997.1,1349.5 L2000.1,1349.5 L2003.1,1349.5 L2006.1,1349.5 L2009.1,1349.5 L2012.1,1349.5 L2015.1,1349.5 L2018.1,1349.5 L2021.1,1349.5 L2024.1,1349.5 L2027.1,1349.5 L2030.1,1349.5 L2033.1,1349.5 L2036.1,1349.5 L2039.1,1349.5 L2042.1,1349.5 L2045.1,1349.5 L2048.1,1349.5 L2051.1,1349.5 L2054.1,1349.5 L2057.1,1349.5 L2060.1,1349.5 L2063.1,1349.5 L2066.1,1349.5 L2069.1,1349.5 L2072.1,1349.5 L2075.1,1349.5 L2078.1,1349.5 L2081.1,1349.5 L2084.1,1349.5 L2087.1,1349.5 L2090.1,1349.5 L2093.1,1349.5 L2096.1,1349.5 L2099.1,1349.5 L2102.1,1349.5 L2105.1,1349.5 L2108.1,1349.5 L2111.1,1349.5 L2114.1,1349.5 L2117.1,1349.5 L2120.1,1349.5 L2123.1,1349.5 L2126.1,1349.5 L2129.1,1349.5 L2132.1,1349.5 L2135.1,1349.5 L2138.1,1349.5 L2141.1,1349.5 L2144.1,1349.5 L2147.1,1349.5 L2150.1,1349.5 L2153.1,1349.5 L2156.1,1349.5 L2159.1,1349.5 L2162.1,1349.5 L2165.1,1349.5 L2168.1,1349.5 L2171.1,1349.5 L2174.1,1349.5 L2177.1,1349.5 L2180.1,1349.5 L2183.1,1349.5 L2186.1,1349.5 L2189.1,1349.5 L2192.1,1349.5 L2195.1,1349.5 L2198.1,1349.5 L2201.1,1349.5 L2204.1,1349.5 L2207.1,1349.5 L2210.1,1349.5 L2213.1,1349.5 L2216.1,1349.5 L2219.1,1349.5 L2222.1,1349.5 L2225.1,1349.5 L2228.1,1349.5 L2231.1,1349.5 L2234.1,1349.5 L2237.1,1349.5 L2240.1,1349.5 L2243.1,1349.5 L2246.0,1349.5 L2248.9,1349.5 L2252.0,1349.5 L2252.4,1349.5"/>
<circle cx="390.3" cy="158.6" r="6.8" fill="#0000ff"/>
<path class="curve" stroke="#000000" d="M396.5,159.0 L397.1,159.0 L400.0,159.0 L403.0,159.0 L406.0,159.0 L409.0,159.0 L412.0,159.0 L415.0,159.0 L418.0,159.0 L421.0,159.0 L424.0,159.0 L427.0,159.0 L430.0,159.1 L433.0,159.1 L436.0,159.1 L439.0,159.1 L442.0,159.1 L445.0,159.1 L448.0,159.1 L451.0,159.1 L454.0,159.1 L457.0,159.1 L460.0,159.1 L463.0,159.1 L466.0,159.1 L469.0,159.1 L472.0,159.1 L475.0,159.1 L478.0,159.2 L481.0,159.2 L484.0,159.2 L487.0,159.2 L490.0,159.2 L493.0,159.2 L496.0,159.2 L499.0,159.2 L502.0,159.2 L505.0,159.2 L508.0,159.2 L511.0,159.2 L514.0,159.2 L517.0,159.3 L520.0,159.3 L523.0,159.3 L526.0,159.3 L529.0,159.3 L532.0,159.3 L535.0,159.3 L538.0,159.3 L541.0,159.3 L544.0,159.3 L547.0,159.3 L550.0,159.3 L553.0,159.4 L556.0,159.4 L559.0,159.4 L562.0,159.4 L565.0,159.4 L568.0,159.4 L571.0,159.4 L574.0,159.4 L577.0,159.4 L580.0,159.4 L583.0,159.4 L586.0,159.5 L589.0,159.5 L592.0,159.5 L595.0,159.5 L598.0,159.5 L601.0,159.5 L604.0,159.5 L607.0,159.5 L610.0,159.5 L613.0,159.5 L616.0,159.6 L619.0,159.6 L622.0,159.6 L625.0,159.6 L628.0,159.6 L631.0,159.6 L634.0,159.6 L637.0,159.6 L640.0,159.6 L643.0,159.6 L646.0,159.7 L649.0,159.7 L652.0,159.7 L655.0,159.7 L658.0,159.7 L661.0,159.7 L664.0,159.7 L667.0,159.7 L670.0,159.8 L673.0,159.8 L676.0,159.8 L679.0,159.8 L682.0,159.8 L685.0,159.8 L688.0,159.8 L691.0,159.9 L694.0,159.9 L697.0,159.9 L700.0,159.9 L703.0,159.9 L706.0,159.9 L709.0,159.9 L712.0,160.0 L715.0,160.0 L718.0,160.0 L721.0,160.0 L724.0,160.0 L727.0,160.1 L730.0,160.1 L733.0,160.1 L736.0,160.1 L739.0,160.1 L742.0,160.1 L745.0,160.2 L748.0,160.2 L751.0,160.2 L754.0,160.2 L757.0,160.3 L760.0,160.3 L763.0,160.3 L766.0,160.3 L769.0,160.4 L772.0,160.4 L775.0,160.4 L778.0,160.4 L781.0,160.5 L784.0,160.5 L787.0,160.5 L790.0,160.6 L793.0,160.6 L796.0,160.6 L799.0,160.7 L802.0,160.7 L805.0,160.7 L808.0,160.8 L811.0,160.8 L814.0,160.8 L817.0,160.9 L820.0,160.9 L823.0,161.0 L826.0,161.0 L829.0,161.1 L832.0,161.1 L835.0,161.1 L838.0,161.2 L841.0,161.2 L844.0,161.3 L847.0,161.3 L850.0,161.4 L853.0,161.4 L856.0,161.5 L859.0,161.5 L862.0,161.6 L865.0,161.6 L868.0,161.6 L871.0,161.7 L874.0,161.7 L877.0,161.8 L880.0,161.8 L883.0,161.9 L886.0,162.0 L889.0,162.0 L892.0,162.1 L895.0,162.1 L898.0,162.2 L901.0,162.2 L904.0,162.3 L907.0,162.3 L910.0,162.4 L913.0,162.5 L916.0,162.5 L919.0,162.6 L922.0,162.6 L925.0,162.7 L928.0,162.8 L931.0,162.8 L934.0,162.9 L937.0,163.0 L940.0,163.1 L943.0,163.1 L946.0,163.2 L949.0,163.3 L952.0,163.4 L955.0,163.4 L958.0,163.5 L961.0,163.6 L964.0,163.7 L967.0,163.8 L970.0,163.8 L973.0,163.9 L976.0,164.0 L979.0,164.1 L982.0,164.2 L985.0,164.3 L988.0,164.4 L991.0,164.5 L994.0,164.5 L997.0,164.6 L1000.0,164.7 L1003.0,164.8 L1006.0,164.9 L1008.9,165.0 L1011.9,165.1 L1014.9,165.2 L1017.9,165.3 L1020.9,165.4 L1023.9,165.5 L1026.9,165.6 L1029.9,165.7 L1032.9,165.8 L1035.9,165.9 L1038.9,166.0 L1041.9,166.2 L1044.9,166.3 L1047.9,166.4 L1050.9,166.5 L1053.9,166.7 L1056.9,166.8 L1059.9,167.0 L1062.9,167.1 L1065.9,167.3 L1068.9,167.4 L1071.9,167.6 L1074.9,167.8 L1077.9,168.0 L1080.9,168.2 L1083.9,168.4 L1086.9,168.6 L1089.9,168.8 L1092.8,169.1 L1095.8,169.3 L1098.8,169.6 L1101.8,169.9 L1104.8,170.3 L1107.8,170.6 L1110.7,171.0 L1113.7,171.4 L1116.7,171.9 L1119.6,172.3 L1122.6,172.8 L1125.6,173.4 L1128.5,173.9 L1131.5,174.5 L1134.4,175.1 L1137.3,175.8 L1140.2,176.5 L1143.1,177.3 L1146.0,178.1 L1148.9,178.9 L1151.8,179.8 L1154.6,180.7 L1157.5,181.7 L1160.3,182.7 L1163.1,183.8 L1165.9,184.9 L1168.7,186.1 L1171.4,187.3 L1174.1,188.6 L1176.8,190.0 L1179.4,191.4 L1182.0,192.9 L1184.5,194.5 L1187.0,196.2 L1189.5,197.9 L1191.9,199.7 L1194.3,201.5 L1196.6,203.4 L1198.9,205.3 L1201.2,207.3 L1203.4,209.3 L1205.6,211.3 L1207.7,213.4 L1209.8,215.6 L1211.9,217.7 L1213.9,219.9 L1216.0,222.2 L1217.9,224.4 L1219.9,226.7 L1221.9,229.0 L1223.8,231.3 L1225.7,233.6 L1227.7,235.9 L1229.5,238.2 L1231.4,240.6 L1233.2,243.0 L1234.9,245.4 L1236.6,247.9 L1238.3,250.4 L1240.0,252.9 L1241.6,255.4 L1243.2,257.9 L1244.8,260.5 L1246.3,263.1 L1247.8,265.6 L1249.3,268.2 L1250.8,270.9 L1252.2,273.5 L1253.6,276.1 L1255.0,278.8 L1256.4,281.5 L1257.7,284.2 L1259.1,286.8 L1260.4,289.5 L1261.8,292.2 L1263.1,294.9 L1264.4,297.6 L1265.7,300.3 L1266.9,303.0 L1268.2,305.8 L1269.5,308.5 L1270.7,311.2 L1272.0,313.9 L1273.2,316.7 L1274.4,319.4 L1275.7,322.1 L1276.9,324.9 L1278.1,327.6 L1279.4,330.4 L1280.6,333.1 L1281.8,335.8 L1283.0,338.6 L1284.2,341.3 L1285.3,344.1 L1286.5,346.9 L1287.6,349.6 L1288.8,352.4 L1289.9,355.2 L1291.0,358.0 L1292.1,360.8 L1293.1,363.6 L1294.2,366.4 L1295.3,369.2 L1296.3,372.0 L1297.4,374.8 L1298.5,377.6 L1299.6,380.4 L1300.7,383.2 L1301.8,386.0 L1302.9,388.8 L1304.0,391.6 L1305.0,394.4 L1306.1,397.2 L1307.2,400.0 L1308.2,402.8 L1309.3,405.6 L1310.3,408.4 L1311.4,411.2 L1312.4,414.1 L1313.4,416.9 L1314.5,419.7 L1315.5,422.5 L1316.5,425.3 L1317.5,428.2 L1318.5,431.0 L1319.5,433.8 L1320.4,436.7 L1321.4,439.5 L1322.3,442.4 L1323.2,445.2 L1324.2,448.1 L1325.1,450.9 L1326.0,453.8 L1326.8,456.7 L1327.7,459.5 L1328.6,462.4 L1329.5,465.3 L1330.3,468.2 L1331.2,471.0 L1332.0,473.9 L1332.8,476.8 L1333.6,479.7 L1334.4,482.6 L1335.2,485.5 L1335.9,488.4 L1336.7,491.3 L1337.4,494.2 L1338.1,497.1 L1338.8,500.0 L1339.5,502.9 L1340.2,505.9 L1340.9,508.8 L1341.5,511.7 L1342.2,514.6 L1342.8,517.6 L1343.5,520.5 L1344.1,523.4 L1344.7,526.4 L1345.4,529.3 L1346.0,532.2 L1346.6,535.2 L1347.2,538.1 L1347.8,541.1 L1348.4,544.0 L1348.9,546.9 L1349.5,549.9 L1350.1,552.8 L1350.7,555.8 L1351.2,558.7 L1351.8,561.7 L1352.4,564.6 L1352.9,567.6 L1353.5,570.5 L1354.0,573.5 L1354.6,576.4 L1355.1,579.4 L1355.7,582.3 L1356.2,585.3 L1356.8,588.2 L1357.3,591.2 L1357.9,594.1 L1358.4,597.1 L1358.9,600.0 L1359.5,603.0 L1360.0,605.9 L1360.5,608.9 L1361.0,611.8 L1361.5,614.8 L1362.1,617.8 L1362.6,620.7 L1363.1,623.7 L1363.6,626.6 L1364.1,629.6 L1364.6,632.5 L1365.1,635.5 L1365.6,638.5 L1366.1,641.4 L1366.6,644.4 L1367.0,647.3 L1367.5,650.3 L1368.0,653.3 L1368.5,656.2 L1369.0,659.2 L1369.4,662.2 L1369.9,665.1 L1370.3,668.1 L1370.8,671.1 L1371.3,674.0 L1371.7,677.0 L1372.2,680.0 L1372.6,682.9 L1373.1,685.9 L1373.5,688.9 L1373.9,691.8 L1374.4,694.8 L1374.8,697.8 L1375.3,700.7 L1375.7,703.7 L1376.1,706.7 L1376.5,709.6 L1377.0,712.6 L1377.4,715.6 L1377.8,718.5 L1378.3,721.5 L1378.7,724.5 L1379.1,727.5 L1379.5,730.4 L1379.9,733.4 L1380.3,736.4 L1380.7,739.3 L1381.1,742.3 L1381.5,745.3 L1381.9,748.3 L1382.3,751.2 L1382.7,754.2 L1383.1,757.2 L1383.5,760.2 L1383.8,763.1 L1384.2,766.1 L1384.6,769.1 L1384.9,772.1 L1385.3,775.1 L1385.7,778.0 L1386.0,781.0 L1386.3,784.0 L1386.7,787.0 L1387.0,790.0 L1387.3,792.9 L1387.7,795.9 L1388.0,798.9 L1388.3,801.9 L1388.6,804.9 L1388.9,807.8 L1389.2,810.8 L1389.5,813.8 L1389.8,816.8 L1390.1,819.8 L1390.4,822.8 L1390.7,825.8 L1391.0,828.7 L1391.3,831.7 L1391.5,834.7 L1391.8,837.7 L1392.1,840.7 L1392.4,843.7 L1392.6,846.7 L1392.9,849.7 L1393.2,852.6 L1393.5,855.6 L1393.7,858.6 L1394.0,861.6 L1394.3,864.6 L1394.5,867.6 L1394.8,870.6 L1395.0,873.6 L1395.3,876.6 L1395.6,879.5 L1395.8,882.5 L1396.1,885.5 L1396.4,888.5 L1396.6,891.5 L1396.9,894.5 L1397.1,897.5 L1397.4,900.5 L1397.7,903.5 L1397.9,906.4 L1398.2,909.4 L1398.4,912.4 L1398.7,915.4 L1398.9,918.4 L1399.2,921.4 L1399.4,924.4 L1399.7,927.4 L1399.9,930.4 L1400.1,933.4 L1400.4,936.3 L1400.6,939.3 L1400.9,942.3 L1401.1,945.3 L1401.4,948.3 L1401.6,951.3 L1401.8,954.3 L1402.1,957.3 L1402.3,960.3 L1402.6,963.3 L1402.8,966.2 L1403.1,969.2 L1403.3,972.2 L1403.6,975.2 L1403.8,978.2 L1404.1,981.2 L1404.3,984.2 L1404.6,987.2 L1404.8,990.2 L1405.1,993.1 L1405.3,996.1 L1405.6,999.1 L1405.8,1002.1 L1406.1,1005.1 L1406.3,1008.1 L1406.6,1011.1 L1406.9,1014.1 L1407.1,1017.1 L1407.4,1020.1 L1407.6,1023.0 L1407.9,1026.0 L1408.1,1029.0 L1408.4,1032.0 L1408.7,1035.0 L1408.9,1038.0 L1409.2,1041.0 L1409.4,1044.0 L1409.7,1047.0 L1410.0,1049.9 L1410.2,1052.9 L1410.5,1055.9 L1410.8,1058.9 L1411.0,1061.9 L1411.3,1064.9 L1411.6,1067.9 L1411.8,1070.9 L1412.1,1073.8 L1412.4,1076.8 L1412.7,1079.8 L1412.9,1082.8 L1413.2,1085.8 L1413.5,1088.8 L1413.8,1091.8 L1414.1,1094.8 L1414.3,1097.7 L1414.6,1100.7 L1414.9,1103.7 L1415.2,1106.7 L1415.5,1109.7 L1415.8,1112.7 L1416.1,1115.7 L1416.3,1118.6 L1416.6,1121.6 L1416.9,1124.6 L1417.2,1127.6 L1417.5,1130.6 L1417.8,1133.6 L1418.1,1136.6 L1418.4,1139.5 L1418.7,1142.5 L1419.0,1145.5 L1419.3,1148.5 L1419.6,1151.5 L1419.9,1154.5 L1420.2,1157.5 L1420.5,1160.4 L1420.9,1163.4 L1421.2,1166.4 L1421.5,1169.4 L1421.8,1172.4 L1422.1,1175.3 L1422.5,1178.3 L1422.8,1181.3 L1423.1,1184.3 L1423.4,1187.3 L1423.8,1190.3 L1424.1,1193.2 L1424.5,1196.2 L1424.8,1199.2 L1425.2,1202.2 L1425.5,1205.2 L1425.9,1208.1 L1426.2,1211.1 L1426.6,1214.1 L1426.9,1217.1 L1427.3,1220.0 L1427.7,1223.0 L1428.0,1226.0 L1428.4,1229.0 L1428.7,1232.0 L1429.1,1234.9 L1429.4,1237.9 L1429.8,1240.9 L1430.2,1243.9 L1430.5,1246.9 L1430.9,1249.8 L1431.2,1252.8 L1431.6,1255.8 L1432.0,1258.8 L1432.3,1261.8 L1432.7,1264.7 L1433.0,1267.7 L1433.4,1270.7 L1433.8,1273.7 L1434.1,1276.6 L1434.5,1279.6 L1434.8,1282.6 L1435.2,1285.6 L1435.5,1288.6 L1435.9,1291.5 L1436.2,1294.5 L1436.6,1297.5 L1436.9,1300.5 L1437.3,1303.5 L1437.6,1306.4 L1438.0,1309.4 L1438.3,1312.4 L1438.6,1315.4 L1439.0,1318.4 L1439.3,1321.3 L1439.7,1324.3 L1440.0,1327.3 L1440.3,1330.3 L1440.7,1333.3 L1441.0,1336.2 L1441.3,1339.2 L1441.7,1342.2 L1442.0,1345.2 L1442.3,1348.2 L1442.6,1351.2 L1442.9,1354.1 L1443.2,1357.1 L1443.5,1360.1 L1443.9,1363.1 L1444.2,1366.1 L1444.5,1369.1 L1444.7,1372.0 L1445.0,1375.0 L1445.3,1378.0 L1445.6,1381.0 L1445.9,1384.0 L1446.2,1387.0 L1446.5,1390.0 L1446.8,1392.9 L1447.1,1395.9 L1447.4,1398.9 L1447.7,1401.9 L1448.0,1404.9 L1448.3,1407.9 L1448.6,1410.9 L1448.9,1413.8 L1449.2,1416.8 L1449.5,1419.8 L1449.8,1422.8 L1450.1,1425.8 L1450.4,1428.8 L1450.7,1431.8 L1451.0,1434.7 L1451.3,1437.7 L1451.6,1440.7 L1451.9,1443.7 L1452.2,1446.7 L1452.5,1449.7 L1452.9,1452.7 L1453.2,1455.6 L1453.5,1458.6 L1453.8,1461.6 L1454.2,1464.6 L1454.5,1467.6 L1454.9,1470.5 L1455.2,1473.5 L1455.6,1476.5 L1455.9,1479.5 L1456.3,1482.4 L1456.7,1485.4 L1457.2,1488.4 L1457.6,1491.4 L1458.0,1494.3 L1458.5,1497.3 L1458.9,1500.3 L1459.4,1503.2 L1459.9,1506.2 L1460.3,1509.1 L1460.8,1512.1 L1461.3,1515.1 L1461.8,1518.0 L1462.3,1521.0 L1462.8,1523.9 L1463.4,1526.9 L1463.9,1529.8 L1464.5,1532.8 L1465.0,1535.7 L1465.6,1538.7 L1466.2,1541.6 L1466.9,1544.5 L1467.5,1547.5 L1468.2,1550.4 L1468.9,1553.3 L1469.5,1556.2 L1470.2,1559.2 L1470.9,1562.1 L1471.6,1565.0 L1472.3,1567.9 L1472.9,1570.9 L1473.6,1573.8 L1474.3,1576.7 L1475.0,1579.7 L1475.7,1582.6 L1476.4,1585.5 L1477.2,1588.4 L1478.0,1591.2 L1478.9,1594.1 L1479.9,1596.9 L1480.9,1599.7 L1482.1,1602.5 L1483.3,1605.3 L1484.6,1608.0 L1486.0,1610.7 L1487.5,1613.3 L1489.2,1615.7 L1491.1,1618.0 L1493.2,1620.0 L1495.5,1621.8 L1498.1,1623.3 L1500.8,1624.4 L1503.6,1625.2 L1506.6,1625.8 L1509.5,1626.2 L1512.5,1626.4 L1515.5,1626.5 L1518.5,1626.6 L1521.5,1626.6 L1524.5,1626.7 L1527.5,1626.7 L1530.5,1626.7 L1533.5,1626.7 L1536.5,1626.7 L1539.5,1626.7 L1542.5,1626.7 L1545.5,1626.7 L1548.5,1626.7 L1551.5,1626.7 L1554.5,1626.7 L1557.5,1626.7 L1560.5,1626.7 L1563.5,1626.7 L1566.5,1626.7 L1569.5,1626.7 L1572.5,1626.7 L1575.5,1626.7 L1578.5,1626.7 L1581.5,1626.7 L1584.5,1626.7 L1587.5,1626.7 L1590.5,1626.7 L1593.5,1626.7 L1596.5,1626.7 L1599.5,1626.7 L1602.5,1626.7 L1605.5,1626.7 L1608.5,1626.7 L1611.5,1626.7 L1614.5,1626.7 L1617.5,1626.7 L1620.5,1626.6 L1623.5,1626.6 L1626.5,1626.6 L1629.5,1626.6 L1632.5,1626.6 L1635.5,1626.6 L1638.5,1626.6 L1641.5,1626.6 L1644.5,1626.6 L1647.5,1626.6 L1650.5,1626.6 L1653.5,1626.6 L1656.5,1626.6 L1659.5,1626.6 L1662.5,1626.6 L1665.5,1626.6 L1668.5,1626.6 L1671.5,1626.6 L1674.5,1626.6 L1677.5,1626.6 L1680.5,1626.6 L1683.5,1626.6 L1686.5,1626.6 L1689.5,1626.6 L1692.5,1626.6 L1695.5,1626.6 L1698.5,1626.5 L1701.5,1626.5 L1704.5,1626.5 L1707.5,1626.5 L1710.5,1626.5 L1713.5,1626.5 L1716.5,1626.5 L1719.5,1626.5 L1722.5,1626.5 L1725.5,1626.5 L1728.5,1626.5 L1731.5,1626.5 L1734.5,1626.5 L1737.5,1626.5 L1740.5,1626.5 L1743.5,1626.5 L1746.5,1626.5 L1749.5,1626.5 L1752.5,1626.5 L1755.5,1626.5 L1758.5,1626.4 L1761.5,1626.4 L1764.5,1626.4 L1767.5,1626.4 L1770.5,1626.4 L1773.5,1626.4 L1776.5,1626.4 L1779.5,1626.4 L1782.5,1626.4 L1785.5,1626.4 L1788.5,1626.4 L1791.5,1626.4 L1794.5,1626.4 L1797.5,1626.4 L1800.5,1626.4 L1803.5,1626.4 L1806.5,1626.4 L1809.5,1626.4 L1812.5,1626.3 L1815.5,1626.3 L1818.5,1626.3 L1821.5,1626.3 L1824.5,1626.3 L1827.5,1626.3 L1830.5,1626.3 L1833.5,1626.3 L1836.5,1626.3 L1839.5,1626.3 L1842.5,1626.3 L1845.5,1626.3 L1848.5,1626.3 L1851.5,1626.3 L1854.5,1626.3 L1857.5,1626.3 L1860.5,1626.3 L1863.5,1626.3 L1866.5,1626.3 L1869.5,1626.2 L1872.5,1626.2 L1875.5,1626.2 L1878.5,1626.2 L1881.5,1626.2 L1884.5,1626.2 L1887.5,1626.2 L1890.5,1626.2 L1893.5,1626.2 L1896.5,1626.2 L1899.5,1626.2 L1902.5,1626.2 L1905.5,1626.2 L1908.5,1626.2 L1911.5,1626.2 L1914.5,1626.2 L1917.5,1626.2 L1920.5,1626.2 L1923.5,1626.2 L1926.5,1626.2 L1929.5,1626.2 L1932.5,1626.2 L1935.5,1626.1 L1938.5,1626.1 L1941.5,1626.1 L1944.5,1626.1 L1947.5,1626.1 L1950.5,1626.1 L1953.5,1626.1 L1956.5,1626.1 L1959.5,1626.1 L1962.5,1626.1 L1965.5,1626.1 L1968.5,1626.1 L1971.5,1626.1 L1974.5,1626.1 L1977.5,1626.1 L1980.5,1626.1 L1983.5,1626.1 L1986.5,1626.1 L1989.5,1626.1 L1992.5,1626.1 L1995.5,1626.1 L1998.5,1626.0 L2001.5,1626.0 L2004.5,1626.0 L2007.5,1626.0 L2010.5,1626.0 L2013.5,1626.0 L2016.5,1626.0 L2019.5,1626.0 L2022.5,1626.0 L2025.5,1626.0 L2028.5,1626.0 L2031.5,1626.0 L2034.5,1626.0 L2037.5,1626.0 L2040.5,1626.0 L2043.5,1626.0 L2046.5,1626.0 L2049.5,1626.0 L2052.5,1626.0 L2055.5,1626.0 L2058.5,1625.9 L2061.5,1625.9 L2064.5,1625.9 L2067.5,1625.9 L2070.5,1625.9 L2073.5,1625.9 L2076.5,1625.9 L2079.5,1625.9 L2082.5,1625.9 L2085.5,1625.9 L2088.5,1625.9 L2091.5,1625.9 L2094.5,1625.9 L2097.5,1625.9 L2100.5,1625.9 L2103.5,1625.9 L2106.5,1625.9 L2109.5,1625.9 L2112.5,1625.9 L2115.5,1625.8 L2118.5,1625.8 L2121.5,1625.8 L2124.5,1625.8 L2127.5,1625.8 L2130.5,1625.8 L2133.5,1625.8 L2136.5,1625.8 L2139.5,1625.8 L2142.5,1625.8 L2145.5,1625.8 L2148.5,1625.8 L2151.5,1625.8 L2154.5,1625.8 L2157.5,1625.8 L2160.5,1625.8 L2163.5,1625.8 L2166.5,1625.8 L2169.5,1625.8 L2172.5,1625.7 L2175.5,1625.7 L2178.5,1625.7 L2181.5,1625.7 L2184.5,1625.7 L2187.5,1625.7 L2190.5,1625.7 L2193.5,1625.7 L2196.5,1625.7 L2199.5,1625.7 L2202.5,1625.7 L2205.5,1625.7 L2208.5,1625.7 L2211.5,1625.7 L2214.5,1625.7 L2217.5,1625.7 L2220.5,1625.7 L2223.5,1625.7 L2226.5,1625.6 L2229.5,1625.6 L2232.5,1625.6 L2235.5,1625.6 L2238.5,1625.6 L2241.5,1625.6 L2244.5,1625.6 L2247.4,1625.6 L2250.4,1625.6 L2252.4,1625.6"/>
</g>
<g id="axes" stroke="#000" fill="none">
<rect x="330.8" y="84.9" width="1997.8" height="1605.6" stroke-width="14.7"/>
<path stroke-width="14.7" d="M330.8,1697.3V1722.3M451.1,1697.3V1706.3M451.1,91.8V100.8M571.4,1697.3V1722.3M571.4,91.8V116.8M691.8,1697.3V1706.3M691.8,91.8V100.8M812.1,1697.3V1722.3M812.1,91.8V116.8M932.4,1697.3V1706.3M932.4,91.8V100.8M1052.7,1697.3V1722.3M1052.7,91.8V116.8M1173.0,1697.3V1706.3M1173.0,91.8V100.8M1293.4,1697.3V1722.3M1293.4,91.8V116.8M1413.7,1697.3V1706.3M1413.7,91.8V100.8M1534.0,1697.3V1722.3M1534.0,91.8V116.8M1654.3,1697.3V1706.3M1654.3,91.8V100.8M1774.6,1697.3V1722.3M1774.6,91.8V116.8M1895.0,1697.3V1706.3M1895.0,91.8V100.8M2015.3,1697.3V1722.3M2015.3,91.8V116.8M2135.6,1697.3V1706.3M2135.6,91.8V100.8M2255.9,1697.3V1722.3M2255.9,91.8V116.8M323.9,1631.6H298.9M2321.8,1631.6H2296.8M323.9,1484.3H314.9M2321.8,1484.3H2312.8M323.9,1337.1H298.9M2321.8,1337.1H2296.8M323.9,1189.8H314.9M2321.8,1189.8H2312.8M323.9,1042.6H298.9M2321.8,1042.6H2296.8M323.9,895.3H314.9M2321.8,895.3H2312.8M323.9,748.0H298.9M2321.8,748.0H2296.8M323.9,600.8H314.9M2321.8,600.8H2312.8M323.9,453.5H298.9M2321.8,453.5H2296.8M323.9,306.3H314.9M2321.8,306.3H2312.8M323.9,159.0H298.9M2321.8,159.0H2296.8"/>
</g>
<g id="ticklabels">
<text class="tick" transform="translate(330.8,1816.5) scale(1,1.05)" text-anchor="middle">0</text>
<text class="tick" transform="translate(571.4,1816.5) scale(1,1.05)" text-anchor="middle">100</text>
<text class="tick" transform="translate(812.1,1816.5) scale(1,1.05)" text-anchor="middle">200</text>
<text class="tick" transform="translate(1052.7,1816.5) scale(1,1.05)" text-anchor="middle">300</text>
<text class="tick" transform="translate(1293.4,1816.5) scale(1,1.05)" text-anchor="middle">400</text>
<text class="tick" transform="translate(1534.0,1816.5) scale(1,1.05)" text-anchor="middle">500</text>
<text class="tick" transform="translate(1774.6,1816.5) scale(1,1.05)" text-anchor="middle">600</text>
<text class="tick" transform="translate(2015.3,1816.5) scale(1,1.05)" text-anchor="middle">700</text>
<text class="tick" transform="translate(2255.9,1816.5) scale(1,1.05)" text-anchor="middle">800</text>
<text class="tick" transform="translate(277.0,1659.4) scale(1,1.05)" text-anchor="end">0</text>
<text class="tick" transform="translate(277.0,1364.9) scale(1,1.05)" text-anchor="end">20</text>
<text class="tick" transform="translate(277.0,1070.4) scale(1,1.05)" text-anchor="end">40</text>
<text class="tick" transform="translate(277.0,775.8) scale(1,1.05)" text-anchor="end">60</text>
<text class="tick" transform="translate(277.0,481.3) scale(1,1.05)" text-anchor="end">80</text>
<text class="tick" transform="translate(277.0,186.8) scale(1,1.05)" text-anchor="end">100</text>
</g>
<text class="title" transform="translate(1329.5,1942.0) scale(1,1.035)" text-anchor="middle">Temperature (<tspan font-size="70" dy="-36">o</tspan><tspan dy="36">C)</tspan></text>
<text class="title" transform="translate(117.8,837) rotate(-90) scale(1,1.03)" text-anchor="middle">Weight (%)</text>
<g id="legend">
<path d="M1590.3,236.1H1730.1" stroke="#000000" stroke-width="14.0" stroke-linecap="round" fill="none"/>
<text class="leg" transform="translate(1746.0,257.7) scale(1,1.05)" text-anchor="start">SBR</text>
<path d="M1590.3,312.6H1730.1" stroke="#008000" stroke-width="14.0" stroke-linecap="round" fill="none" stroke-dasharray="23 39.7"/>
<text class="leg" transform="translate(1746.0,334.2) scale(1,1.05)" text-anchor="start">SBR/GO</text>
<path d="M1590.3,389.0H1730.1" stroke="#00008b" stroke-width="14.0" stroke-linecap="round" fill="none" stroke-dasharray="23 39.7"/>
<text class="leg" transform="translate(1746.0,410.6) scale(1,1.05)" text-anchor="start">SBR/rGO-SH</text>
<path d="M1590.3,465.5H1730.1" stroke="#ff0000" stroke-width="14.0" stroke-linecap="round" fill="none" stroke-dasharray="23 39.7"/>
<text class="leg" transform="translate(1746.0,487.1) scale(1,1.05)" text-anchor="start">SBR/GO-DA</text>
<path d="M1590.3,541.9H1730.1" stroke="#0000ff" stroke-width="14.0" stroke-linecap="round" fill="none"/>
<text class="leg" transform="translate(1746.0,563.5) scale(1,1.05)" text-anchor="start">SBR/SnF/GO-DA</text>
</g>
<text class="ann" transform="translate(2241.0,1312.8) scale(1,1.04)" text-anchor="end">19.1 wt%</text>
<text class="ann" transform="translate(2241.0,1543.3) scale(1,1.04)" text-anchor="end">3.5 wt%</text>
</svg>
</body>
</html>
